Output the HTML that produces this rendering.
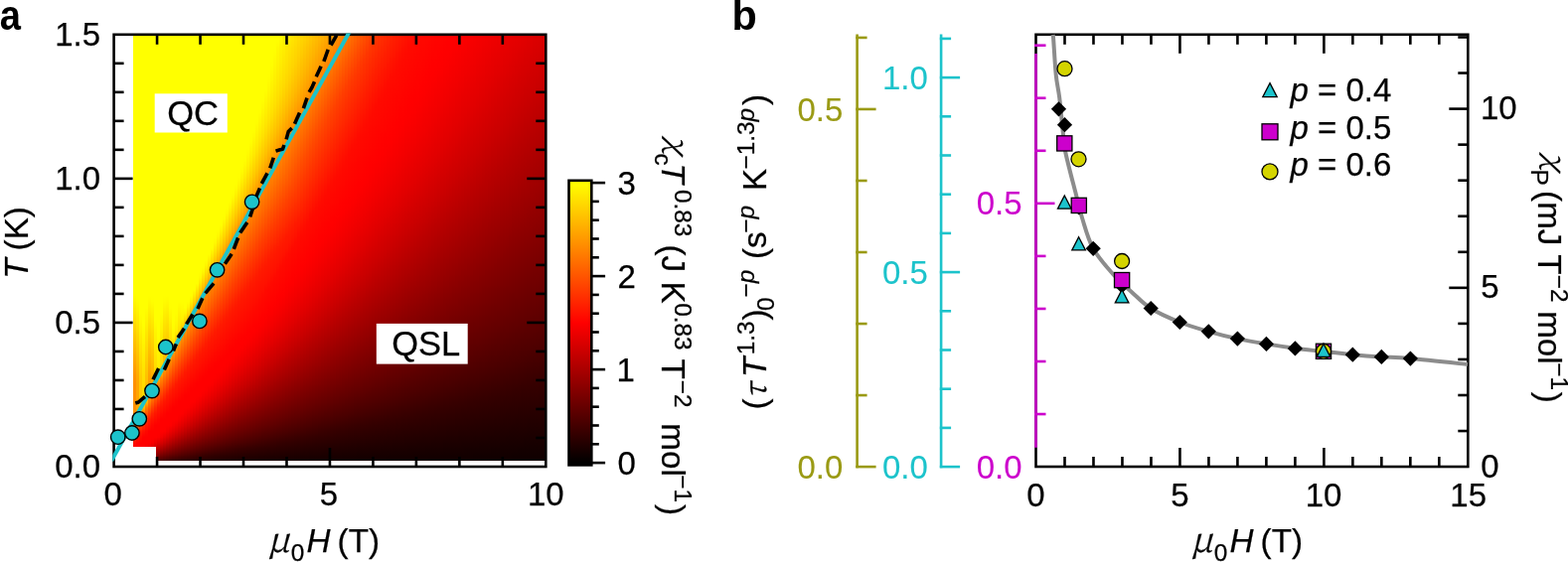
<!DOCTYPE html>
<html><head><meta charset="utf-8"><title>Figure</title>
<style>
html,body{margin:0;padding:0;background:#fff}
#fig{position:relative;width:1578px;height:566px;overflow:hidden;background:#fff;font-family:"Liberation Sans",sans-serif}
#hm i{position:absolute;display:block}
svg{position:absolute;left:0;top:0}
svg text{font-family:"Liberation Sans",sans-serif}
</style></head><body>
<div id="fig">
<div id="hm">
<i style="left:134.0px;width:3.5px;top:36.0px;height:427.7px;background:linear-gradient(#ffff00,#ffff00,#ffff00,#ffff00,#ffff00,#ffff00,#ffff00,#ffff00,#ffff00,#ffff00,#ffff00,#ffff00,#ffff00,#ffff00,#ffff00,#ffff00,#ffff00,#ffff00,#ffff00,#ffff00,#ffff00,#ffff00,#ffff00,#ffff00,#ffff00,#ffff00,#ffff00,#ffff00,#ffff00,#ffff00,#ffff00,#ffff00,#ffff00,#ffff00,#ffff00,#ffff00,#ffff00,#ffff00,#ffff00,#ffff00,#ffff00,#ffff00,#ffff00,#ffff00,#fffd00,#fff600,#ffee00,#ffe700,#ffdf00,#ffd700,#ffd000,#ffc800,#ffc000,#ffb900,#ffb100,#ffaa00,#ffa200,#ff9a00,#ff9300,#ff9000,#ff9000,#ff9000,#ff9000,#ff9000,#ff9000,#ff9000,#ff9000,#ff6900,#ff2e00,#ff0c00,#ff0000,#ff0000,#ae0000)"></i>
<i style="left:137.0px;width:3.5px;top:36.0px;height:427.7px;background:linear-gradient(#ffff00,#ffff00,#ffff00,#ffff00,#ffff00,#ffff00,#ffff00,#ffff00,#ffff00,#ffff00,#ffff00,#ffff00,#ffff00,#ffff00,#ffff00,#ffff00,#ffff00,#ffff00,#ffff00,#ffff00,#ffff00,#ffff00,#ffff00,#ffff00,#ffff00,#ffff00,#ffff00,#ffff00,#ffff00,#ffff00,#ffff00,#ffff00,#ffff00,#ffff00,#ffff00,#ffff00,#ffff00,#ffff00,#ffff00,#ffff00,#ffff00,#ffff00,#ffff00,#ffff00,#ffff00,#fffc00,#fff600,#ffef00,#ffe900,#ffe200,#ffdc00,#ffd500,#ffcf00,#ffc800,#ffc200,#ffbb00,#ffb500,#ffae00,#ffa800,#ffa500,#ffa500,#ffa500,#ffa500,#ffa500,#ffa500,#ffa500,#ff7000,#ff3b00,#ff1400,#ff0100,#ff0000,#f40000,#970000)"></i>
<i style="left:140.0px;width:3.5px;top:36.0px;height:427.7px;background:linear-gradient(#ffff00,#ffff00,#ffff00,#ffff00,#ffff00,#ffff00,#ffff00,#ffff00,#ffff00,#ffff00,#ffff00,#ffff00,#ffff00,#ffff00,#ffff00,#ffff00,#ffff00,#ffff00,#ffff00,#ffff00,#ffff00,#ffff00,#ffff00,#ffff00,#ffff00,#ffff00,#ffff00,#ffff00,#ffff00,#ffff00,#ffff00,#ffff00,#ffff00,#ffff00,#ffff00,#ffff00,#ffff00,#ffff00,#ffff00,#ffff00,#ffff00,#ffff00,#ffff00,#ffff00,#ffff00,#ffff00,#ffff00,#ffff00,#fffb00,#fff600,#fff200,#ffed00,#ffe800,#ffe400,#ffdf00,#ffdb00,#ffd600,#ffd200,#ffcd00,#ffcb00,#ffcb00,#ffcb00,#ffcb00,#ffcb00,#ffbd00,#ff7500,#ff4600,#ff1a00,#ff0900,#ff0000,#ff0000,#e00000,#850000)"></i>
<i style="left:143.0px;width:3.5px;top:36.0px;height:427.7px;background:linear-gradient(#ffff00,#ffff00,#ffff00,#ffff00,#ffff00,#ffff00,#ffff00,#ffff00,#ffff00,#ffff00,#ffff00,#ffff00,#ffff00,#ffff00,#ffff00,#ffff00,#ffff00,#ffff00,#ffff00,#ffff00,#ffff00,#ffff00,#ffff00,#ffff00,#ffff00,#ffff00,#ffff00,#ffff00,#ffff00,#ffff00,#ffff00,#ffff00,#ffff00,#ffff00,#ffff00,#ffff00,#ffff00,#ffff00,#ffff00,#ffff00,#ffff00,#ffff00,#ffff00,#ffff00,#ffff00,#ffff00,#ffff00,#ffff00,#ffff00,#ffff00,#fffb00,#fff800,#fff400,#fff000,#ffec00,#ffe900,#ffe500,#ffe100,#ffde00,#ffdc00,#ffdc00,#ffdc00,#ffdc00,#ffbc00,#ff7900,#ff4f00,#ff2700,#ff1000,#ff0000,#ff0000,#fe0000,#cc0000,#770000)"></i>
<i style="left:146.0px;width:3.5px;top:36.0px;height:427.7px;background:linear-gradient(#ffff00,#ffff00,#ffff00,#ffff00,#ffff00,#ffff00,#ffff00,#ffff00,#ffff00,#ffff00,#ffff00,#ffff00,#ffff00,#ffff00,#ffff00,#ffff00,#ffff00,#ffff00,#ffff00,#ffff00,#ffff00,#ffff00,#ffff00,#ffff00,#ffff00,#ffff00,#ffff00,#ffff00,#ffff00,#ffff00,#ffff00,#ffff00,#ffff00,#ffff00,#ffff00,#ffff00,#ffff00,#ffff00,#ffff00,#ffff00,#ffff00,#ffff00,#ffff00,#ffff00,#ffff00,#ffff00,#ffff00,#fffa00,#fff500,#fff000,#ffea00,#ffe500,#ffe000,#ffdb00,#ffd500,#ffd000,#ffcb00,#ffc600,#ffc100,#ffbe00,#ffbe00,#ffbe00,#ffbc00,#ff7d00,#ff5600,#ff3100,#ff1500,#ff0700,#ff0000,#ff0000,#f10000,#b80000,#6b0000)"></i>
<i style="left:149.0px;width:3.5px;top:36.0px;height:427.7px;background:linear-gradient(#ffff00,#ffff00,#ffff00,#ffff00,#ffff00,#ffff00,#ffff00,#ffff00,#ffff00,#ffff00,#ffff00,#ffff00,#ffff00,#ffff00,#ffff00,#ffff00,#ffff00,#ffff00,#ffff00,#ffff00,#ffff00,#ffff00,#ffff00,#ffff00,#ffff00,#ffff00,#ffff00,#ffff00,#ffff00,#ffff00,#ffff00,#ffff00,#ffff00,#ffff00,#ffff00,#ffff00,#ffff00,#ffff00,#ffff00,#ffff00,#ffff00,#ffff00,#ffff00,#ffff00,#ffff00,#fffa00,#fff300,#ffec00,#ffe500,#ffde00,#ffd700,#ffd000,#ffc900,#ffc200,#ffbb00,#ffb400,#ffad00,#ffa600,#ff9f00,#ff9c00,#ff9c00,#ff9c00,#ff8000,#ff5d00,#ff3a00,#ff1900,#ff0d00,#ff0000,#ff0000,#ff0000,#e30000,#a90000,#620000)"></i>
<i style="left:152.0px;width:3.5px;top:36.0px;height:427.7px;background:linear-gradient(#ffff00,#ffff00,#ffff00,#ffff00,#ffff00,#ffff00,#ffff00,#ffff00,#ffff00,#ffff00,#ffff00,#ffff00,#ffff00,#ffff00,#ffff00,#ffff00,#ffff00,#ffff00,#ffff00,#ffff00,#ffff00,#ffff00,#ffff00,#ffff00,#ffff00,#ffff00,#ffff00,#ffff00,#ffff00,#ffff00,#ffff00,#ffff00,#ffff00,#ffff00,#ffff00,#ffff00,#ffff00,#ffff00,#ffff00,#ffff00,#ffff00,#ffff00,#ffff00,#ffff00,#ffff00,#fffe00,#fff700,#fff100,#ffeb00,#ffe500,#ffde00,#ffd800,#ffd200,#ffcb00,#ffc500,#ffbf00,#ffb800,#ffb200,#ffac00,#ffa900,#ffa900,#ff8200,#ff6200,#ff4100,#ff2300,#ff1200,#ff0600,#ff0000,#ff0000,#f90000,#d30000,#9b0000,#590000)"></i>
<i style="left:155.0px;width:3.5px;top:36.0px;height:427.7px;background:linear-gradient(#ffff00,#ffff00,#ffff00,#ffff00,#ffff00,#ffff00,#ffff00,#ffff00,#ffff00,#ffff00,#ffff00,#ffff00,#ffff00,#ffff00,#ffff00,#ffff00,#ffff00,#ffff00,#ffff00,#ffff00,#ffff00,#ffff00,#ffff00,#ffff00,#ffff00,#ffff00,#ffff00,#ffff00,#ffff00,#ffff00,#ffff00,#ffff00,#ffff00,#ffff00,#ffff00,#ffff00,#ffff00,#ffff00,#ffff00,#ffff00,#ffff00,#ffff00,#ffff00,#ffff00,#ffff00,#ffff00,#ffff00,#ffff00,#ffff00,#fffb00,#fff600,#fff200,#ffee00,#ffea00,#ffe600,#ffe200,#ffde00,#ffd900,#ffd500,#ffba00,#ff8400,#ff6600,#ff4800,#ff2b00,#ff1600,#ff0b00,#ff0000,#ff0000,#ff0000,#ed0000,#c50000,#8f0000,#520000)"></i>
<i style="left:158.0px;width:3.5px;top:36.0px;height:427.7px;background:linear-gradient(#ffff00,#ffff00,#ffff00,#ffff00,#ffff00,#ffff00,#ffff00,#ffff00,#ffff00,#ffff00,#ffff00,#ffff00,#ffff00,#ffff00,#ffff00,#ffff00,#ffff00,#ffff00,#ffff00,#ffff00,#ffff00,#ffff00,#ffff00,#ffff00,#ffff00,#ffff00,#ffff00,#ffff00,#ffff00,#ffff00,#ffff00,#ffff00,#ffff00,#ffff00,#ffff00,#ffff00,#ffff00,#ffff00,#ffff00,#ffff00,#ffff00,#ffff00,#ffff00,#ffff00,#ffff00,#ffff00,#ffff00,#ffff00,#ffff00,#ffff00,#ffff00,#fffd00,#fffa00,#fff600,#fff300,#fff000,#ffed00,#ffe900,#ffba00,#ff8600,#ff6a00,#ff4e00,#ff3300,#ff1900,#ff0f00,#ff0500,#ff0000,#ff0000,#fd0000,#e20000,#b70000,#850000,#4c0000)"></i>
<i style="left:161.0px;width:3.5px;top:36.0px;height:427.7px;background:linear-gradient(#ffff00,#ffff00,#ffff00,#ffff00,#ffff00,#ffff00,#ffff00,#ffff00,#ffff00,#ffff00,#ffff00,#ffff00,#ffff00,#ffff00,#ffff00,#ffff00,#ffff00,#ffff00,#ffff00,#ffff00,#ffff00,#ffff00,#ffff00,#ffff00,#ffff00,#ffff00,#ffff00,#ffff00,#ffff00,#ffff00,#ffff00,#ffff00,#ffff00,#ffff00,#ffff00,#ffff00,#ffff00,#ffff00,#ffff00,#ffff00,#ffff00,#ffff00,#ffff00,#ffff00,#ffff00,#ffff00,#ffff00,#ffff00,#fffb00,#fff600,#fff200,#ffed00,#ffe800,#ffe400,#ffdf00,#ffdb00,#ffd600,#ffba00,#ff8800,#ff6d00,#ff5300,#ff3900,#ff2100,#ff1300,#ff0900,#ff0000,#ff0000,#ff0000,#f30000,#d50000,#ab0000,#7c0000,#460000)"></i>
<i style="left:164.0px;width:3.5px;top:36.0px;height:427.7px;background:linear-gradient(#ffff00,#ffff00,#ffff00,#ffff00,#ffff00,#ffff00,#ffff00,#ffff00,#ffff00,#ffff00,#ffff00,#ffff00,#ffff00,#ffff00,#ffff00,#ffff00,#ffff00,#ffff00,#ffff00,#ffff00,#ffff00,#ffff00,#ffff00,#ffff00,#ffff00,#ffff00,#ffff00,#ffff00,#ffff00,#ffff00,#ffff00,#ffff00,#ffff00,#ffff00,#ffff00,#ffff00,#ffff00,#ffff00,#ffff00,#ffff00,#ffff00,#ffff00,#ffff00,#ffff00,#ffff00,#fffc00,#fff600,#ffef00,#ffe900,#ffe200,#ffdc00,#ffd500,#ffcf00,#ffc800,#ffc200,#ffbb00,#ffb500,#ff8a00,#ff7000,#ff5800,#ff3e00,#ff2800,#ff1600,#ff0d00,#ff0400,#ff0000,#ff0000,#fe0000,#e90000,#ca0000,#a10000,#740000,#410000)"></i>
<i style="left:167.0px;width:3.5px;top:36.0px;height:427.7px;background:linear-gradient(#ffff00,#ffff00,#ffff00,#ffff00,#ffff00,#ffff00,#ffff00,#ffff00,#ffff00,#ffff00,#ffff00,#ffff00,#ffff00,#ffff00,#ffff00,#ffff00,#ffff00,#ffff00,#ffff00,#ffff00,#ffff00,#ffff00,#ffff00,#ffff00,#ffff00,#ffff00,#ffff00,#ffff00,#ffff00,#ffff00,#ffff00,#ffff00,#ffff00,#ffff00,#ffff00,#ffff00,#ffff00,#ffff00,#ffff00,#ffff00,#ffff00,#ffff00,#ffff00,#ffff00,#ffff00,#fffa00,#fff300,#ffec00,#ffe500,#ffde00,#ffd700,#ffd000,#ffc900,#ffc200,#ffbb00,#ffb400,#ff8d00,#ff7300,#ff5c00,#ff4400,#ff2e00,#ff1900,#ff1100,#ff0800,#ff0000,#ff0000,#ff0000,#f60000,#df0000,#be0000,#970000,#6d0000,#3c0000)"></i>
<i style="left:170.0px;width:3.5px;top:36.0px;height:427.7px;background:linear-gradient(#ffff00,#ffff00,#ffff00,#ffff00,#ffff00,#ffff00,#ffff00,#ffff00,#ffff00,#ffff00,#ffff00,#ffff00,#ffff00,#ffff00,#ffff00,#ffff00,#ffff00,#ffff00,#ffff00,#ffff00,#ffff00,#ffff00,#ffff00,#ffff00,#ffff00,#ffff00,#ffff00,#ffff00,#ffff00,#ffff00,#ffff00,#ffff00,#ffff00,#ffff00,#ffff00,#ffff00,#ffff00,#ffff00,#ffff00,#ffff00,#ffff00,#ffff00,#ffff00,#ffff00,#ffff00,#ffff00,#fffe00,#fff900,#fff400,#ffee00,#ffe900,#ffe400,#ffde00,#ffd900,#ffb900,#ff8f00,#ff7500,#ff5f00,#ff4900,#ff3300,#ff1f00,#ff1400,#ff0c00,#ff0400,#ff0000,#ff0000,#fe0000,#ed0000,#d40000,#b40000,#8f0000,#670000,#380000)"></i>
<i style="left:173.0px;width:3.5px;top:36.0px;height:427.7px;background:linear-gradient(#ffff00,#ffff00,#ffff00,#ffff00,#ffff00,#ffff00,#ffff00,#ffff00,#ffff00,#ffff00,#ffff00,#ffff00,#ffff00,#ffff00,#ffff00,#ffff00,#ffff00,#ffff00,#ffff00,#ffff00,#ffff00,#ffff00,#ffff00,#ffff00,#ffff00,#ffff00,#ffff00,#ffff00,#ffff00,#ffff00,#ffff00,#ffff00,#ffff00,#ffff00,#ffff00,#ffff00,#ffff00,#ffff00,#ffff00,#ffff00,#ffff00,#ffff00,#ffff00,#ffff00,#ffff00,#ffff00,#ffff00,#ffff00,#ffff00,#fffd00,#fff900,#fff500,#ffdf00,#ffb900,#ff9100,#ff7700,#ff6200,#ff4d00,#ff3800,#ff2500,#ff1600,#ff0f00,#ff0700,#ff0000,#ff0000,#ff0000,#f80000,#e50000,#cb0000,#aa0000,#870000,#620000,#340000)"></i>
<i style="left:176.0px;width:3.5px;top:36.0px;height:427.7px;background:linear-gradient(#ffff00,#ffff00,#ffff00,#ffff00,#ffff00,#ffff00,#ffff00,#ffff00,#ffff00,#ffff00,#ffff00,#ffff00,#ffff00,#ffff00,#ffff00,#ffff00,#ffff00,#ffff00,#ffff00,#ffff00,#ffff00,#ffff00,#ffff00,#ffff00,#ffff00,#ffff00,#ffff00,#ffff00,#ffff00,#ffff00,#ffff00,#ffff00,#ffff00,#ffff00,#ffff00,#ffff00,#ffff00,#ffff00,#ffff00,#ffff00,#ffff00,#ffff00,#ffff00,#ffff00,#ffff00,#ffff00,#ffff00,#fffe00,#fffa00,#fff500,#fff000,#ffdd00,#ffb800,#ff9200,#ff7900,#ff6500,#ff5100,#ff3d00,#ff2b00,#ff1900,#ff1200,#ff0b00,#ff0300,#ff0000,#ff0000,#ff0000,#f10000,#dc0000,#c10000,#a20000,#800000,#5d0000,#320000)"></i>
<i style="left:179.0px;width:3.5px;top:36.0px;height:427.7px;background:linear-gradient(#ffff00,#ffff00,#ffff00,#ffff00,#ffff00,#ffff00,#ffff00,#ffff00,#ffff00,#ffff00,#ffff00,#ffff00,#ffff00,#ffff00,#ffff00,#ffff00,#ffff00,#ffff00,#ffff00,#ffff00,#ffff00,#ffff00,#ffff00,#ffff00,#ffff00,#ffff00,#ffff00,#ffff00,#ffff00,#ffff00,#ffff00,#ffff00,#ffff00,#ffff00,#ffff00,#ffff00,#ffff00,#ffff00,#ffff00,#ffff00,#ffff00,#ffff00,#ffff00,#ffff00,#ffff00,#ffff00,#fff900,#fff300,#ffed00,#ffe700,#ffdc00,#ffb800,#ff9400,#ff7b00,#ff6800,#ff5500,#ff4100,#ff3000,#ff1e00,#ff1400,#ff0d00,#ff0700,#ff0000,#ff0000,#ff0000,#f90000,#e80000,#d30000,#b80000,#9a0000,#7a0000,#580000,#2f0000)"></i>
<i style="left:182.0px;width:3.5px;top:36.0px;height:427.7px;background:linear-gradient(#ffff00,#ffff00,#ffff00,#ffff00,#ffff00,#ffff00,#ffff00,#ffff00,#ffff00,#ffff00,#ffff00,#ffff00,#ffff00,#ffff00,#ffff00,#ffff00,#ffff00,#ffff00,#ffff00,#ffff00,#ffff00,#ffff00,#ffff00,#ffff00,#ffff00,#ffff00,#ffff00,#ffff00,#ffff00,#ffff00,#ffff00,#ffff00,#ffff00,#ffff00,#ffff00,#ffff00,#ffff00,#ffff00,#ffff00,#ffff00,#ffff00,#ffff00,#ffff00,#ffff00,#ffff00,#ffff00,#fffb00,#fff600,#fff000,#ffdb00,#ffb800,#ff9500,#ff7d00,#ff6a00,#ff5800,#ff4500,#ff3400,#ff2300,#ff1700,#ff1000,#ff0a00,#ff0300,#ff0000,#ff0000,#fe0000,#f20000,#e10000,#cb0000,#b00000,#930000,#740000,#530000,#2d0000)"></i>
<i style="left:185.0px;width:3.5px;top:36.0px;height:427.7px;background:linear-gradient(#ffff00,#ffff00,#ffff00,#ffff00,#ffff00,#ffff00,#ffff00,#ffff00,#ffff00,#ffff00,#ffff00,#ffff00,#ffff00,#ffff00,#ffff00,#ffff00,#ffff00,#ffff00,#ffff00,#ffff00,#ffff00,#ffff00,#ffff00,#ffff00,#ffff00,#ffff00,#ffff00,#ffff00,#ffff00,#ffff00,#ffff00,#ffff00,#ffff00,#ffff00,#ffff00,#ffff00,#ffff00,#ffff00,#ffff00,#ffff00,#ffff00,#ffff00,#ffff00,#ffff00,#ffff00,#ffff00,#ffff00,#fff400,#ffd900,#ffb800,#ff9700,#ff7e00,#ff6d00,#ff5b00,#ff4900,#ff3800,#ff2800,#ff1900,#ff1300,#ff0c00,#ff0600,#ff0000,#ff0000,#ff0000,#f90000,#eb0000,#d80000,#c20000,#a80000,#8c0000,#6f0000,#4f0000,#2c0000)"></i>
<i style="left:188.0px;width:3.5px;top:36.0px;height:427.7px;background:linear-gradient(#ffff00,#ffff00,#ffff00,#ffff00,#ffff00,#ffff00,#ffff00,#ffff00,#ffff00,#ffff00,#ffff00,#ffff00,#ffff00,#ffff00,#ffff00,#ffff00,#ffff00,#ffff00,#ffff00,#ffff00,#ffff00,#ffff00,#ffff00,#ffff00,#ffff00,#ffff00,#ffff00,#ffff00,#ffff00,#ffff00,#ffff00,#ffff00,#ffff00,#ffff00,#ffff00,#ffff00,#ffff00,#ffff00,#ffff00,#ffff00,#ffff00,#ffff00,#ffff00,#ffff00,#ffff00,#ffff00,#fff200,#ffd800,#ffb800,#ff9800,#ff8000,#ff6f00,#ff5e00,#ff4d00,#ff3c00,#ff2d00,#ff1d00,#ff1500,#ff0f00,#ff0900,#ff0300,#ff0000,#ff0000,#fe0000,#f30000,#e40000,#d10000,#ba0000,#a10000,#860000,#6b0000,#4c0000,#2a0000)"></i>
<i style="left:191.0px;width:3.5px;top:36.0px;height:427.7px;background:linear-gradient(#ffff00,#ffff00,#ffff00,#ffff00,#ffff00,#ffff00,#ffff00,#ffff00,#ffff00,#ffff00,#ffff00,#ffff00,#ffff00,#ffff00,#ffff00,#ffff00,#ffff00,#ffff00,#ffff00,#ffff00,#ffff00,#ffff00,#ffff00,#ffff00,#ffff00,#ffff00,#ffff00,#ffff00,#ffff00,#ffff00,#ffff00,#ffff00,#ffff00,#ffff00,#ffff00,#ffff00,#ffff00,#ffff00,#ffff00,#ffff00,#ffff00,#ffff00,#ffff00,#ffff00,#ffff00,#ffef00,#ffd600,#ffb800,#ff9900,#ff8100,#ff7100,#ff6000,#ff5000,#ff4000,#ff3100,#ff2200,#ff1700,#ff1100,#ff0b00,#ff0500,#ff0000,#ff0000,#ff0000,#f90000,#ed0000,#dd0000,#ca0000,#b30000,#9a0000,#810000,#660000,#480000,#290000)"></i>
<i style="left:194.0px;width:3.5px;top:36.0px;height:427.7px;background:linear-gradient(#ffff00,#ffff00,#ffff00,#ffff00,#ffff00,#ffff00,#ffff00,#ffff00,#ffff00,#ffff00,#ffff00,#ffff00,#ffff00,#ffff00,#ffff00,#ffff00,#ffff00,#ffff00,#ffff00,#ffff00,#ffff00,#ffff00,#ffff00,#ffff00,#ffff00,#ffff00,#ffff00,#ffff00,#ffff00,#ffff00,#ffff00,#ffff00,#ffff00,#ffff00,#ffff00,#ffff00,#ffff00,#ffff00,#ffff00,#ffff00,#ffff00,#ffff00,#ffff00,#ffff00,#ffec00,#ffd400,#ffb800,#ff9a00,#ff8200,#ff7200,#ff6300,#ff5300,#ff4300,#ff3400,#ff2600,#ff1900,#ff1300,#ff0e00,#ff0800,#ff0200,#ff0000,#ff0000,#fe0000,#f40000,#e60000,#d50000,#c20000,#ac0000,#940000,#7c0000,#620000,#450000,#270000)"></i>
<i style="left:197.0px;width:3.5px;top:36.0px;height:427.7px;background:linear-gradient(#ffff00,#ffff00,#ffff00,#ffff00,#ffff00,#ffff00,#ffff00,#ffff00,#ffff00,#ffff00,#ffff00,#ffff00,#ffff00,#ffff00,#ffff00,#ffff00,#ffff00,#ffff00,#ffff00,#ffff00,#ffff00,#ffff00,#ffff00,#ffff00,#ffff00,#ffff00,#ffff00,#ffff00,#ffff00,#ffff00,#ffff00,#ffff00,#ffff00,#ffff00,#ffff00,#ffff00,#ffff00,#ffff00,#ffff00,#ffff00,#ffff00,#ffff00,#fffe00,#ffe900,#ffd200,#ffb700,#ff9b00,#ff8300,#ff7400,#ff6500,#ff5600,#ff4600,#ff3800,#ff2a00,#ff1c00,#ff1500,#ff1000,#ff0a00,#ff0500,#ff0000,#ff0000,#ff0000,#f90000,#ee0000,#e00000,#cf0000,#bb0000,#a50000,#8e0000,#770000,#5e0000,#410000,#260000)"></i>
<i style="left:200.0px;width:3.5px;top:36.0px;height:427.7px;background:linear-gradient(#ffff00,#ffff00,#ffff00,#ffff00,#ffff00,#ffff00,#ffff00,#ffff00,#ffff00,#ffff00,#ffff00,#ffff00,#ffff00,#ffff00,#ffff00,#ffff00,#ffff00,#ffff00,#ffff00,#ffff00,#ffff00,#ffff00,#ffff00,#ffff00,#ffff00,#ffff00,#ffff00,#ffff00,#ffff00,#ffff00,#ffff00,#ffff00,#ffff00,#ffff00,#ffff00,#ffff00,#ffff00,#ffff00,#ffff00,#ffff00,#ffff00,#fffa00,#ffe600,#ffd000,#ffb600,#ff9c00,#ff8400,#ff7500,#ff6700,#ff5800,#ff4a00,#ff3b00,#ff2e00,#ff2100,#ff1700,#ff1200,#ff0d00,#ff0700,#ff0200,#ff0000,#ff0000,#fe0000,#f40000,#e80000,#d90000,#c80000,#b40000,#9f0000,#890000,#730000,#5b0000,#3f0000,#250000)"></i>
<i style="left:203.0px;width:3.5px;top:36.0px;height:427.7px;background:linear-gradient(#ffff00,#ffff00,#ffff00,#ffff00,#ffff00,#ffff00,#ffff00,#ffff00,#ffff00,#ffff00,#ffff00,#ffff00,#ffff00,#ffff00,#ffff00,#ffff00,#ffff00,#ffff00,#ffff00,#ffff00,#ffff00,#ffff00,#ffff00,#ffff00,#ffff00,#ffff00,#ffff00,#ffff00,#ffff00,#ffff00,#ffff00,#ffff00,#ffff00,#ffff00,#ffff00,#ffff00,#ffff00,#ffff00,#ffff00,#ffff00,#fff700,#ffe400,#ffcf00,#ffb600,#ff9c00,#ff8500,#ff7700,#ff6900,#ff5b00,#ff4c00,#ff3e00,#ff3100,#ff2500,#ff1900,#ff1400,#ff0f00,#ff0a00,#ff0500,#ff0000,#ff0000,#ff0000,#f90000,#ee0000,#e20000,#d20000,#c10000,#ae0000,#9a0000,#840000,#6f0000,#570000,#3c0000,#240000)"></i>
<i style="left:206.0px;width:3.5px;top:36.0px;height:427.7px;background:linear-gradient(#ffff00,#ffff00,#ffff00,#ffff00,#ffff00,#ffff00,#ffff00,#ffff00,#ffff00,#ffff00,#ffff00,#ffff00,#ffff00,#ffff00,#ffff00,#ffff00,#ffff00,#ffff00,#ffff00,#ffff00,#ffff00,#ffff00,#ffff00,#ffff00,#ffff00,#ffff00,#ffff00,#ffff00,#ffff00,#ffff00,#ffff00,#ffff00,#ffff00,#ffff00,#ffff00,#ffff00,#ffff00,#ffff00,#ffff00,#fff400,#ffe100,#ffcd00,#ffb500,#ff9d00,#ff8600,#ff7800,#ff6b00,#ff5d00,#ff4f00,#ff4100,#ff3500,#ff2800,#ff1c00,#ff1600,#ff1100,#ff0c00,#ff0700,#ff0200,#ff0000,#ff0000,#fd0000,#f40000,#e90000,#dc0000,#cd0000,#bb0000,#a80000,#940000,#800000,#6b0000,#540000,#390000,#230000)"></i>
<i style="left:209.0px;width:3.5px;top:36.0px;height:427.7px;background:linear-gradient(#ffff00,#ffff00,#ffff00,#ffff00,#ffff00,#ffff00,#ffff00,#ffff00,#ffff00,#ffff00,#ffff00,#ffff00,#ffff00,#ffff00,#ffff00,#ffff00,#ffff00,#ffff00,#ffff00,#ffff00,#ffff00,#ffff00,#ffff00,#ffff00,#ffff00,#ffff00,#ffff00,#ffff00,#ffff00,#ffff00,#ffff00,#ffff00,#ffff00,#ffff00,#ffff00,#ffff00,#ffff00,#ffff00,#fff000,#ffdf00,#ffcb00,#ffb500,#ff9d00,#ff8700,#ff7900,#ff6c00,#ff5f00,#ff5200,#ff4400,#ff3800,#ff2c00,#ff2000,#ff1700,#ff1200,#ff0e00,#ff0900,#ff0400,#ff0000,#ff0000,#ff0000,#f80000,#ef0000,#e40000,#d50000,#c60000,#b50000,#a20000,#8f0000,#7c0000,#670000,#510000,#370000,#220000)"></i>
<i style="left:212.0px;width:3.5px;top:36.0px;height:427.7px;background:linear-gradient(#ffff00,#ffff00,#ffff00,#ffff00,#ffff00,#ffff00,#ffff00,#ffff00,#ffff00,#ffff00,#ffff00,#ffff00,#ffff00,#ffff00,#ffff00,#ffff00,#ffff00,#ffff00,#ffff00,#ffff00,#ffff00,#ffff00,#ffff00,#ffff00,#ffff00,#ffff00,#ffff00,#ffff00,#ffff00,#ffff00,#ffff00,#ffff00,#ffff00,#ffff00,#ffff00,#ffff00,#fffe00,#ffed00,#ffdd00,#ffca00,#ffb400,#ff9e00,#ff8700,#ff7b00,#ff6e00,#ff6100,#ff5400,#ff4700,#ff3b00,#ff2f00,#ff2300,#ff1900,#ff1400,#ff1000,#ff0b00,#ff0600,#ff0200,#ff0000,#ff0000,#fc0000,#f40000,#e90000,#de0000,#d00000,#c00000,#af0000,#9d0000,#8b0000,#780000,#640000,#4e0000,#350000,#210000)"></i>
<i style="left:215.0px;width:3.5px;top:36.0px;height:427.7px;background:linear-gradient(#ffff00,#ffff00,#ffff00,#ffff00,#ffff00,#ffff00,#ffff00,#ffff00,#ffff00,#ffff00,#ffff00,#ffff00,#ffff00,#ffff00,#ffff00,#ffff00,#ffff00,#ffff00,#ffff00,#ffff00,#ffff00,#ffff00,#ffff00,#ffff00,#ffff00,#ffff00,#ffff00,#ffff00,#ffff00,#ffff00,#ffff00,#ffff00,#ffff00,#ffff00,#ffff00,#fffa00,#ffeb00,#ffdb00,#ffc800,#ffb300,#ff9e00,#ff8800,#ff7c00,#ff6f00,#ff6300,#ff5600,#ff4a00,#ff3d00,#ff3200,#ff2700,#ff1b00,#ff1600,#ff1100,#ff0d00,#ff0800,#ff0400,#ff0000,#ff0000,#fe0000,#f70000,#ef0000,#e50000,#d80000,#ca0000,#ba0000,#aa0000,#980000,#860000,#740000,#610000,#4b0000,#330000,#200000)"></i>
<i style="left:218.0px;width:3.5px;top:36.0px;height:427.7px;background:linear-gradient(#ffff00,#ffff00,#ffff00,#ffff00,#ffff00,#ffff00,#ffff00,#ffff00,#ffff00,#ffff00,#ffff00,#ffff00,#ffff00,#ffff00,#ffff00,#ffff00,#ffff00,#ffff00,#ffff00,#ffff00,#ffff00,#ffff00,#ffff00,#ffff00,#ffff00,#ffff00,#ffff00,#ffff00,#ffff00,#ffff00,#ffff00,#ffff00,#ffff00,#ffff00,#fff700,#ffe800,#ffd900,#ffc700,#ffb300,#ff9e00,#ff8900,#ff7d00,#ff7100,#ff6500,#ff5900,#ff4c00,#ff4000,#ff3500,#ff2a00,#ff1f00,#ff1700,#ff1300,#ff0f00,#ff0a00,#ff0600,#ff0200,#ff0000,#ff0000,#fb0000,#f30000,#ea0000,#df0000,#d20000,#c40000,#b50000,#a40000,#940000,#820000,#700000,#5e0000,#490000,#320000,#1f0000)"></i>
<i style="left:221.0px;width:3.5px;top:36.0px;height:427.7px;background:linear-gradient(#ffff00,#ffff00,#ffff00,#ffff00,#ffff00,#ffff00,#ffff00,#ffff00,#ffff00,#ffff00,#ffff00,#ffff00,#ffff00,#ffff00,#ffff00,#ffff00,#ffff00,#ffff00,#ffff00,#ffff00,#ffff00,#ffff00,#ffff00,#ffff00,#ffff00,#ffff00,#ffff00,#ffff00,#ffff00,#ffff00,#ffff00,#ffff00,#ffff00,#fff400,#ffe500,#ffd700,#ffc600,#ffb200,#ff9f00,#ff8a00,#ff7e00,#ff7200,#ff6600,#ff5b00,#ff4f00,#ff4300,#ff3800,#ff2d00,#ff2200,#ff1900,#ff1500,#ff1000,#ff0c00,#ff0800,#ff0400,#ff0000,#ff0000,#fe0000,#f70000,#ef0000,#e50000,#da0000,#cd0000,#bf0000,#b00000,#a00000,#8f0000,#7e0000,#6d0000,#5b0000,#460000,#300000,#1f0000)"></i>
<i style="left:224.0px;width:3.5px;top:36.0px;height:427.7px;background:linear-gradient(#ffff00,#ffff00,#ffff00,#ffff00,#ffff00,#ffff00,#ffff00,#ffff00,#ffff00,#ffff00,#ffff00,#ffff00,#ffff00,#ffff00,#ffff00,#ffff00,#ffff00,#ffff00,#ffff00,#ffff00,#ffff00,#ffff00,#ffff00,#ffff00,#ffff00,#ffff00,#ffff00,#ffff00,#ffff00,#ffff00,#ffff00,#fffd00,#fff100,#ffe300,#ffd500,#ffc400,#ffb200,#ff9f00,#ff8b00,#ff7f00,#ff7300,#ff6800,#ff5c00,#ff5100,#ff4500,#ff3a00,#ff3000,#ff2500,#ff1b00,#ff1600,#ff1200,#ff0e00,#ff0a00,#ff0600,#ff0200,#ff0000,#ff0000,#fa0000,#f30000,#ea0000,#e00000,#d40000,#c80000,#b90000,#ab0000,#9b0000,#8b0000,#7b0000,#6a0000,#580000,#440000,#2f0000,#1e0000)"></i>
<i style="left:227.0px;width:3.5px;top:36.0px;height:427.7px;background:linear-gradient(#ffff00,#ffff00,#ffff00,#ffff00,#ffff00,#ffff00,#ffff00,#ffff00,#ffff00,#ffff00,#ffff00,#ffff00,#ffff00,#ffff00,#ffff00,#ffff00,#ffff00,#ffff00,#ffff00,#ffff00,#ffff00,#ffff00,#ffff00,#ffff00,#ffff00,#ffff00,#ffff00,#ffff00,#ffff00,#ffff00,#fffa00,#ffee00,#ffe100,#ffd300,#ffc300,#ffb100,#ff9f00,#ff8c00,#ff7f00,#ff7400,#ff6900,#ff5e00,#ff5300,#ff4800,#ff3d00,#ff3300,#ff2800,#ff1e00,#ff1700,#ff1300,#ff0f00,#ff0b00,#ff0700,#ff0300,#ff0000,#ff0000,#fd0000,#f60000,#ef0000,#e60000,#db0000,#cf0000,#c20000,#b40000,#a60000,#970000,#870000,#770000,#670000,#550000,#410000,#2e0000,#1d0000)"></i>
<i style="left:230.0px;width:3.5px;top:36.0px;height:427.7px;background:linear-gradient(#ffff00,#ffff00,#ffff00,#ffff00,#ffff00,#ffff00,#ffff00,#ffff00,#ffff00,#ffff00,#ffff00,#ffff00,#ffff00,#ffff00,#ffff00,#ffff00,#ffff00,#ffff00,#ffff00,#ffff00,#ffff00,#ffff00,#ffff00,#ffff00,#ffff00,#ffff00,#ffff00,#ffff00,#ffff00,#fff700,#ffeb00,#ffde00,#ffd100,#ffc200,#ffb100,#ff9f00,#ff8d00,#ff8000,#ff7500,#ff6b00,#ff6000,#ff5500,#ff4a00,#ff3f00,#ff3500,#ff2b00,#ff2100,#ff1900,#ff1500,#ff1100,#ff0d00,#ff0900,#ff0500,#ff0100,#ff0000,#ff0000,#f90000,#f20000,#ea0000,#e10000,#d60000,#cb0000,#bd0000,#b00000,#a10000,#930000,#830000,#740000,#640000,#530000,#3f0000,#2d0000,#1d0000)"></i>
<i style="left:233.0px;width:3.5px;top:36.0px;height:427.7px;background:linear-gradient(#ffff00,#ffff00,#ffff00,#ffff00,#ffff00,#ffff00,#ffff00,#ffff00,#ffff00,#ffff00,#ffff00,#ffff00,#ffff00,#ffff00,#ffff00,#ffff00,#ffff00,#ffff00,#ffff00,#ffff00,#ffff00,#ffff00,#ffff00,#ffff00,#ffff00,#ffff00,#ffff00,#fffd00,#fff400,#ffe800,#ffdc00,#ffd000,#ffc100,#ffb000,#ff9f00,#ff8e00,#ff8100,#ff7700,#ff6c00,#ff6200,#ff5700,#ff4c00,#ff4100,#ff3800,#ff2e00,#ff2400,#ff1b00,#ff1600,#ff1200,#ff0f00,#ff0b00,#ff0700,#ff0300,#ff0000,#ff0000,#fc0000,#f50000,#ee0000,#e60000,#dc0000,#d10000,#c60000,#b80000,#ab0000,#9d0000,#8f0000,#800000,#710000,#620000,#500000,#3d0000,#2c0000,#1c0000)"></i>
<i style="left:236.0px;width:3.5px;top:36.0px;height:427.7px;background:linear-gradient(#ffff00,#ffff00,#ffff00,#ffff00,#ffff00,#ffff00,#ffff00,#ffff00,#ffff00,#ffff00,#ffff00,#ffff00,#ffff00,#ffff00,#ffff00,#ffff00,#ffff00,#ffff00,#ffff00,#ffff00,#ffff00,#ffff00,#ffff00,#ffff00,#ffff00,#ffff00,#fffa00,#fff100,#ffe600,#ffda00,#ffce00,#ffbf00,#ffb000,#ff9f00,#ff8f00,#ff8200,#ff7800,#ff6d00,#ff6300,#ff5900,#ff4e00,#ff4400,#ff3a00,#ff3100,#ff2700,#ff1e00,#ff1700,#ff1400,#ff1000,#ff0c00,#ff0900,#ff0500,#ff0100,#ff0000,#fe0000,#f80000,#f20000,#ea0000,#e20000,#d70000,#cd0000,#c10000,#b40000,#a70000,#990000,#8b0000,#7d0000,#6e0000,#5f0000,#4e0000,#3b0000,#2b0000,#1c0000)"></i>
<i style="left:239.0px;width:3.5px;top:36.0px;height:427.7px;background:linear-gradient(#ffff00,#ffff00,#ffff00,#ffff00,#ffff00,#ffff00,#ffff00,#ffff00,#ffff00,#ffff00,#ffff00,#ffff00,#ffff00,#ffff00,#ffff00,#ffff00,#ffff00,#ffff00,#ffff00,#ffff00,#ffff00,#ffff00,#ffff00,#ffff00,#fffe00,#fff700,#ffee00,#ffe300,#ffd800,#ffcc00,#ffbe00,#ffaf00,#ff9f00,#ff8f00,#ff8300,#ff7900,#ff6e00,#ff6400,#ff5a00,#ff5000,#ff4600,#ff3c00,#ff3300,#ff2a00,#ff2100,#ff1900,#ff1500,#ff1100,#ff0e00,#ff0a00,#ff0700,#ff0300,#ff0000,#ff0000,#fb0000,#f50000,#ee0000,#e60000,#dd0000,#d30000,#c80000,#bc0000,#af0000,#a20000,#950000,#870000,#790000,#6b0000,#5c0000,#4c0000,#390000,#2a0000,#1b0000)"></i>
<i style="left:242.0px;width:3.5px;top:36.0px;height:427.7px;background:linear-gradient(#ffff00,#ffff00,#ffff00,#ffff00,#ffff00,#ffff00,#ffff00,#ffff00,#ffff00,#ffff00,#ffff00,#ffff00,#ffff00,#ffff00,#ffff00,#ffff00,#ffff00,#ffff00,#ffff00,#ffff00,#ffff00,#ffff00,#ffff00,#fffb00,#fff400,#ffeb00,#ffe100,#ffd600,#ffcb00,#ffbd00,#ffae00,#ff9f00,#ff9000,#ff8300,#ff7900,#ff7000,#ff6600,#ff5c00,#ff5200,#ff4800,#ff3e00,#ff3500,#ff2c00,#ff2300,#ff1a00,#ff1600,#ff1300,#ff0f00,#ff0c00,#ff0800,#ff0500,#ff0100,#ff0000,#fd0000,#f70000,#f10000,#ea0000,#e20000,#d80000,#ce0000,#c30000,#b70000,#ab0000,#9e0000,#910000,#840000,#760000,#690000,#5a0000,#4a0000,#370000,#290000,#1b0000)"></i>
<i style="left:245.0px;width:3.5px;top:36.0px;height:427.7px;background:linear-gradient(#ffff00,#ffff00,#ffff00,#ffff00,#ffff00,#ffff00,#ffff00,#ffff00,#ffff00,#ffff00,#ffff00,#ffff00,#ffff00,#ffff00,#ffff00,#ffff00,#ffff00,#ffff00,#ffff00,#ffff00,#ffff00,#fffe00,#fff800,#fff100,#ffe900,#ffdf00,#ffd400,#ffc900,#ffbc00,#ffae00,#ff9f00,#ff9100,#ff8400,#ff7a00,#ff7100,#ff6700,#ff5e00,#ff5400,#ff4a00,#ff4000,#ff3800,#ff2f00,#ff2600,#ff1d00,#ff1800,#ff1400,#ff1100,#ff0d00,#ff0a00,#ff0600,#ff0300,#ff0000,#fe0000,#fa0000,#f40000,#ed0000,#e60000,#dd0000,#d40000,#ca0000,#bf0000,#b30000,#a70000,#9b0000,#8e0000,#810000,#740000,#660000,#570000,#480000,#360000,#280000,#1a0000)"></i>
<i style="left:248.0px;width:3.5px;top:36.0px;height:427.7px;background:linear-gradient(#ffff00,#ffff00,#ffff00,#ffff00,#ffff00,#ffff00,#ffff00,#ffff00,#ffff00,#ffff00,#ffff00,#ffff00,#ffff00,#ffff00,#ffff00,#ffff00,#ffff00,#ffff00,#ffff00,#ffff00,#fffb00,#fff500,#ffef00,#ffe600,#ffdc00,#ffd200,#ffc800,#ffbb00,#ffad00,#ff9f00,#ff9100,#ff8400,#ff7b00,#ff7200,#ff6800,#ff5f00,#ff5600,#ff4c00,#ff4300,#ff3a00,#ff3100,#ff2900,#ff2000,#ff1900,#ff1500,#ff1200,#ff0f00,#ff0b00,#ff0800,#ff0400,#ff0100,#ff0000,#fc0000,#f60000,#f10000,#e90000,#e20000,#d90000,#d00000,#c60000,#ba0000,#af0000,#a30000,#970000,#8a0000,#7e0000,#710000,#640000,#550000,#460000,#340000,#270000,#1a0000)"></i>
<i style="left:251.0px;width:3.5px;top:36.0px;height:427.7px;background:linear-gradient(#ffff00,#ffff00,#ffff00,#ffff00,#ffff00,#ffff00,#ffff00,#ffff00,#ffff00,#ffff00,#ffff00,#ffff00,#ffff00,#ffff00,#ffff00,#ffff00,#ffff00,#ffff00,#fffe00,#fff800,#fff200,#ffec00,#ffe300,#ffda00,#ffd100,#ffc700,#ffba00,#ffad00,#ff9f00,#ff9200,#ff8500,#ff7c00,#ff7300,#ff6a00,#ff6000,#ff5700,#ff4e00,#ff4500,#ff3c00,#ff3300,#ff2b00,#ff2300,#ff1a00,#ff1600,#ff1300,#ff1000,#ff0d00,#ff0900,#ff0600,#ff0300,#ff0000,#fe0000,#f90000,#f30000,#ed0000,#e60000,#de0000,#d50000,#cc0000,#c10000,#b60000,#ab0000,#9f0000,#930000,#870000,#7b0000,#6e0000,#620000,#530000,#440000,#330000,#260000,#1a0000)"></i>
<i style="left:254.0px;width:3.5px;top:36.0px;height:427.7px;background:linear-gradient(#ffff00,#ffff00,#ffff00,#ffff00,#ffff00,#ffff00,#ffff00,#ffff00,#ffff00,#ffff00,#ffff00,#ffff00,#ffff00,#ffff00,#ffff00,#ffff00,#ffff00,#fffb00,#fff500,#ffef00,#ffea00,#ffe100,#ffd800,#ffcf00,#ffc500,#ffb900,#ffac00,#ff9f00,#ff9200,#ff8600,#ff7d00,#ff7400,#ff6b00,#ff6200,#ff5900,#ff5000,#ff4700,#ff3e00,#ff3500,#ff2d00,#ff2500,#ff1d00,#ff1800,#ff1400,#ff1100,#ff0e00,#ff0a00,#ff0700,#ff0400,#ff0100,#ff0000,#fb0000,#f60000,#f00000,#e90000,#e20000,#da0000,#d10000,#c80000,#bd0000,#b20000,#a70000,#9c0000,#900000,#840000,#780000,#6c0000,#5f0000,#510000,#420000,#320000,#260000,#190000)"></i>
<i style="left:257.0px;width:3.5px;top:36.0px;height:427.7px;background:linear-gradient(#ffff00,#ffff00,#ffff00,#ffff00,#ffff00,#ffff00,#ffff00,#ffff00,#ffff00,#ffff00,#ffff00,#ffff00,#ffff00,#ffff00,#ffff00,#fffc00,#fff700,#fff200,#ffed00,#ffe700,#ffdf00,#ffd600,#ffcd00,#ffc400,#ffb800,#ffac00,#ff9f00,#ff9200,#ff8600,#ff7d00,#ff7500,#ff6c00,#ff6300,#ff5a00,#ff5100,#ff4800,#ff4000,#ff3800,#ff2f00,#ff2700,#ff1f00,#ff1900,#ff1500,#ff1200,#ff0f00,#ff0c00,#ff0800,#ff0600,#ff0300,#ff0000,#fd0000,#f80000,#f30000,#ec0000,#e60000,#de0000,#d60000,#cd0000,#c30000,#b90000,#ae0000,#a30000,#980000,#8d0000,#810000,#750000,#690000,#5d0000,#4f0000,#400000,#310000,#250000,#190000)"></i>
<i style="left:260.0px;width:3.5px;top:36.0px;height:427.7px;background:linear-gradient(#ffff00,#ffff00,#ffff00,#ffff00,#ffff00,#ffff00,#ffff00,#ffff00,#ffff00,#ffff00,#ffff00,#ffff00,#ffff00,#fffe00,#fff900,#fff400,#ffef00,#ffea00,#ffe400,#ffdc00,#ffd400,#ffcb00,#ffc200,#ffb700,#ffab00,#ff9f00,#ff9200,#ff8700,#ff7e00,#ff7600,#ff6d00,#ff6400,#ff5c00,#ff5300,#ff4a00,#ff4100,#ff3900,#ff3200,#ff2a00,#ff2200,#ff1a00,#ff1700,#ff1300,#ff1000,#ff0d00,#ff0900,#ff0600,#ff0400,#ff0100,#fe0000,#fa0000,#f50000,#ef0000,#e90000,#e20000,#da0000,#d20000,#c90000,#bf0000,#b50000,#ab0000,#a00000,#950000,#8a0000,#7e0000,#730000,#670000,#5b0000,#4d0000,#3e0000,#300000,#240000,#180000)"></i>
<i style="left:263.0px;width:3.5px;top:36.0px;height:427.7px;background:linear-gradient(#ffff00,#ffff00,#ffff00,#ffff00,#ffff00,#ffff00,#ffff00,#ffff00,#ffff00,#ffff00,#ffff00,#fffe00,#fffa00,#fff600,#fff100,#ffed00,#ffe800,#ffe200,#ffda00,#ffd200,#ffca00,#ffc100,#ffb600,#ffab00,#ff9f00,#ff9300,#ff8700,#ff7f00,#ff7600,#ff6e00,#ff6600,#ff5d00,#ff5500,#ff4c00,#ff4300,#ff3b00,#ff3400,#ff2c00,#ff2400,#ff1c00,#ff1800,#ff1500,#ff1200,#ff0f00,#ff0a00,#ff0700,#ff0500,#ff0200,#ff0000,#fc0000,#f70000,#f20000,#ec0000,#e50000,#de0000,#d60000,#ce0000,#c50000,#bb0000,#b10000,#a70000,#9d0000,#920000,#870000,#7c0000,#700000,#650000,#580000,#4b0000,#3d0000,#2f0000,#240000,#180000)"></i>
<i style="left:266.0px;width:3.5px;top:36.0px;height:427.7px;background:linear-gradient(#ffff00,#ffff00,#ffff00,#ffff00,#ffff00,#ffff00,#ffff00,#ffff00,#ffff00,#ffff00,#fffb00,#fff700,#fff300,#ffef00,#ffea00,#ffe500,#ffdf00,#ffd800,#ffd000,#ffc800,#ffc000,#ffb500,#ffaa00,#ff9f00,#ff9300,#ff8700,#ff7f00,#ff7700,#ff6f00,#ff6700,#ff5e00,#ff5600,#ff4e00,#ff4500,#ff3d00,#ff3600,#ff2e00,#ff2600,#ff1f00,#ff1900,#ff1600,#ff1300,#ff1000,#ff0a00,#ff0800,#ff0500,#ff0300,#ff0100,#fd0000,#f90000,#f40000,#ee0000,#e80000,#e20000,#da0000,#d20000,#ca0000,#c10000,#b70000,#ae0000,#a40000,#990000,#8f0000,#840000,#790000,#6e0000,#630000,#560000,#4a0000,#3b0000,#2e0000,#230000,#180000)"></i>
<i style="left:269.0px;width:3.5px;top:36.0px;height:427.7px;background:linear-gradient(#ffff00,#ffff00,#ffff00,#ffff00,#ffff00,#ffff00,#ffff00,#fffe00,#fffb00,#fff800,#fff400,#fff000,#ffec00,#ffe700,#ffe300,#ffdd00,#ffd600,#ffce00,#ffc700,#ffbe00,#ffb400,#ffaa00,#ff9f00,#ff9300,#ff8700,#ff8000,#ff7800,#ff7000,#ff6800,#ff6000,#ff5700,#ff4f00,#ff4700,#ff3f00,#ff3700,#ff3000,#ff2900,#ff2100,#ff1a00,#ff1700,#ff1400,#ff1100,#ff0c00,#ff0800,#ff0600,#ff0400,#ff0100,#fe0000,#fa0000,#f60000,#f10000,#eb0000,#e50000,#de0000,#d70000,#cf0000,#c60000,#bd0000,#b40000,#aa0000,#a00000,#960000,#8c0000,#810000,#770000,#6c0000,#610000,#550000,#480000,#3a0000,#2d0000,#220000,#180000)"></i>
<i style="left:272.0px;width:3.5px;top:36.0px;height:427.7px;background:linear-gradient(#ffff00,#ffff00,#ffff00,#ffff00,#ffff00,#fffe00,#fffb00,#fff800,#fff400,#fff100,#ffed00,#ffe900,#ffe500,#ffe100,#ffdb00,#ffd400,#ffcd00,#ffc500,#ffbd00,#ffb300,#ffa900,#ff9f00,#ff9300,#ff8800,#ff8000,#ff7900,#ff7100,#ff6900,#ff6100,#ff5900,#ff5100,#ff4900,#ff4100,#ff3900,#ff3200,#ff2b00,#ff2300,#ff1c00,#ff1800,#ff1500,#ff1200,#ff0d00,#ff0900,#ff0700,#ff0400,#ff0200,#ff0000,#fc0000,#f80000,#f30000,#ee0000,#e80000,#e20000,#da0000,#d30000,#cb0000,#c30000,#b90000,#b00000,#a70000,#9d0000,#930000,#890000,#7f0000,#740000,#6a0000,#5f0000,#530000,#460000,#380000,#2d0000,#220000,#170000)"></i>
<i style="left:275.0px;width:3.5px;top:36.0px;height:427.7px;background:linear-gradient(#ffff00,#ffff00,#ffff00,#fffd00,#fffa00,#fff700,#fff400,#fff100,#ffee00,#ffea00,#ffe600,#ffe300,#ffde00,#ffd800,#ffd200,#ffcb00,#ffc400,#ffbc00,#ffb300,#ffa900,#ff9f00,#ff9300,#ff8800,#ff8000,#ff7900,#ff7200,#ff6a00,#ff6200,#ff5a00,#ff5200,#ff4a00,#ff4200,#ff3b00,#ff3400,#ff2d00,#ff2600,#ff1e00,#ff1900,#ff1600,#ff1300,#ff0f00,#ff0900,#ff0700,#ff0500,#ff0300,#ff0100,#fd0000,#f90000,#f50000,#f00000,#ea0000,#e50000,#de0000,#d70000,#d00000,#c80000,#bf0000,#b60000,#ad0000,#a30000,#9a0000,#900000,#860000,#7c0000,#720000,#680000,#5d0000,#510000,#440000,#370000,#2c0000,#210000,#170000)"></i>
<i style="left:278.0px;width:3.5px;top:36.0px;height:427.7px;background:linear-gradient(#ffff00,#fffe00,#fff900,#fff600,#fff400,#fff100,#ffee00,#ffeb00,#ffe700,#ffe400,#ffe000,#ffdc00,#ffd600,#ffd000,#ffc900,#ffc300,#ffbb00,#ffb200,#ffa800,#ff9e00,#ff9300,#ff8800,#ff8000,#ff7900,#ff7200,#ff6b00,#ff6300,#ff5b00,#ff5400,#ff4c00,#ff4400,#ff3d00,#ff3600,#ff2f00,#ff2800,#ff2100,#ff1a00,#ff1700,#ff1400,#ff1000,#ff0a00,#ff0800,#ff0600,#ff0400,#ff0100,#fe0000,#fb0000,#f70000,#f20000,#ed0000,#e70000,#e20000,#db0000,#d30000,#cc0000,#c40000,#bb0000,#b20000,#aa0000,#a00000,#970000,#8d0000,#840000,#7a0000,#700000,#660000,#5b0000,#4f0000,#430000,#350000,#2b0000,#210000,#170000)"></i>
<i style="left:281.0px;width:3.5px;top:36.0px;height:427.7px;background:linear-gradient(#fffd00,#fff800,#fff300,#fff000,#ffee00,#ffeb00,#ffe800,#ffe500,#ffe100,#ffde00,#ffda00,#ffd400,#ffce00,#ffc800,#ffc100,#ffba00,#ffb100,#ffa800,#ff9e00,#ff9300,#ff8800,#ff8000,#ff7900,#ff7200,#ff6c00,#ff6400,#ff5d00,#ff5500,#ff4d00,#ff4600,#ff3e00,#ff3700,#ff3100,#ff2a00,#ff2300,#ff1c00,#ff1800,#ff1500,#ff1100,#ff0b00,#ff0800,#ff0600,#ff0400,#ff0200,#ff0000,#fc0000,#f80000,#f40000,#ef0000,#ea0000,#e40000,#de0000,#d70000,#d00000,#c90000,#c00000,#b80000,#af0000,#a60000,#9d0000,#940000,#8b0000,#810000,#770000,#6e0000,#640000,#590000,#4e0000,#410000,#340000,#2a0000,#200000,#160000)"></i>
<i style="left:284.0px;width:3.5px;top:36.0px;height:427.7px;background:linear-gradient(#fff700,#fff200,#ffee00,#ffeb00,#ffe800,#ffe500,#ffe200,#ffdf00,#ffdc00,#ffd700,#ffd200,#ffcc00,#ffc600,#ffc000,#ffb800,#ffb000,#ffa700,#ff9e00,#ff9400,#ff8900,#ff8000,#ff7900,#ff7200,#ff6c00,#ff6500,#ff5e00,#ff5600,#ff4f00,#ff4700,#ff4000,#ff3900,#ff3200,#ff2c00,#ff2500,#ff1e00,#ff1900,#ff1600,#ff1200,#ff0c00,#ff0900,#ff0700,#ff0500,#ff0300,#ff0100,#fe0000,#fa0000,#f60000,#f10000,#ec0000,#e70000,#e10000,#db0000,#d40000,#cd0000,#c50000,#bd0000,#b40000,#ac0000,#a30000,#9a0000,#910000,#880000,#7f0000,#750000,#6c0000,#620000,#570000,#4c0000,#400000,#330000,#2a0000,#200000,#160000)"></i>
<i style="left:287.0px;width:3.5px;top:36.0px;height:427.7px;background:linear-gradient(#fff100,#ffed00,#ffe800,#ffe500,#ffe300,#ffe000,#ffdd00,#ffd900,#ffd500,#ffd000,#ffca00,#ffc500,#ffbe00,#ffb700,#ffaf00,#ffa700,#ff9e00,#ff9400,#ff8900,#ff8000,#ff7900,#ff7200,#ff6b00,#ff6500,#ff5f00,#ff5800,#ff5000,#ff4900,#ff4100,#ff3b00,#ff3400,#ff2d00,#ff2700,#ff2000,#ff1900,#ff1700,#ff1400,#ff0d00,#ff0900,#ff0700,#ff0500,#ff0300,#ff0100,#fe0000,#fb0000,#f70000,#f30000,#ee0000,#e90000,#e40000,#de0000,#d70000,#d00000,#ca0000,#c20000,#b90000,#b10000,#a90000,#a00000,#980000,#8e0000,#850000,#7c0000,#730000,#6a0000,#600000,#550000,#4b0000,#3e0000,#320000,#290000,#1f0000,#160000)"></i>
<i style="left:290.0px;width:3.5px;top:36.0px;height:427.7px;background:linear-gradient(#ffec00,#ffe700,#ffe300,#ffe000,#ffdd00,#ffda00,#ffd700,#ffd300,#ffce00,#ffc900,#ffc300,#ffbd00,#ffb600,#ffae00,#ffa600,#ff9e00,#ff9400,#ff8900,#ff8100,#ff7900,#ff7200,#ff6b00,#ff6500,#ff5e00,#ff5800,#ff5200,#ff4a00,#ff4300,#ff3c00,#ff3600,#ff2f00,#ff2900,#ff2200,#ff1c00,#ff1800,#ff1500,#ff0f00,#ff0a00,#ff0800,#ff0600,#ff0400,#ff0200,#ff0000,#fc0000,#f80000,#f50000,#f00000,#eb0000,#e60000,#e10000,#da0000,#d40000,#cd0000,#c60000,#be0000,#b60000,#ae0000,#a60000,#9d0000,#950000,#8c0000,#830000,#7a0000,#710000,#680000,#5e0000,#540000,#490000,#3d0000,#320000,#280000,#1f0000,#160000)"></i>
<i style="left:293.0px;width:3.5px;top:36.0px;height:427.7px;background:linear-gradient(#ffe600,#ffe200,#ffde00,#ffdb00,#ffd800,#ffd500,#ffd100,#ffcc00,#ffc700,#ffc100,#ffbc00,#ffb500,#ffae00,#ffa600,#ff9d00,#ff9400,#ff8900,#ff8100,#ff7900,#ff7200,#ff6b00,#ff6400,#ff5e00,#ff5800,#ff5100,#ff4b00,#ff4500,#ff3e00,#ff3700,#ff3100,#ff2a00,#ff2400,#ff1e00,#ff1900,#ff1500,#ff1000,#ff0a00,#ff0800,#ff0600,#ff0400,#ff0200,#ff0000,#fe0000,#fa0000,#f60000,#f20000,#ed0000,#e90000,#e40000,#de0000,#d70000,#d10000,#ca0000,#c30000,#bb0000,#b30000,#ab0000,#a30000,#9b0000,#920000,#890000,#810000,#780000,#6f0000,#660000,#5c0000,#520000,#480000,#3c0000,#310000,#280000,#1f0000,#160000)"></i>
<i style="left:296.0px;width:3.5px;top:36.0px;height:427.7px;background:linear-gradient(#ffe100,#ffdd00,#ffd900,#ffd600,#ffd300,#ffcf00,#ffca00,#ffc500,#ffc000,#ffbb00,#ffb400,#ffad00,#ffa500,#ff9d00,#ff9400,#ff8900,#ff8100,#ff7900,#ff7200,#ff6b00,#ff6400,#ff5e00,#ff5700,#ff5100,#ff4b00,#ff4500,#ff3f00,#ff3900,#ff3300,#ff2c00,#ff2600,#ff2000,#ff1900,#ff1600,#ff1100,#ff0b00,#ff0900,#ff0700,#ff0500,#ff0300,#ff0100,#fe0000,#fb0000,#f70000,#f40000,#ef0000,#eb0000,#e60000,#e10000,#da0000,#d40000,#ce0000,#c70000,#bf0000,#b80000,#b00000,#a80000,#a00000,#980000,#8f0000,#870000,#7e0000,#760000,#6d0000,#640000,#5b0000,#510000,#460000,#3a0000,#300000,#270000,#1e0000,#150000)"></i>
<i style="left:299.0px;width:3.5px;top:36.0px;height:427.7px;background:linear-gradient(#ffdc00,#ffd800,#ffd400,#ffd100,#ffcd00,#ffc800,#ffc400,#ffbf00,#ffb900,#ffb300,#ffac00,#ffa500,#ff9d00,#ff9400,#ff8a00,#ff8100,#ff7900,#ff7200,#ff6b00,#ff6400,#ff5e00,#ff5700,#ff5100,#ff4b00,#ff4500,#ff3f00,#ff3900,#ff3400,#ff2e00,#ff2800,#ff2200,#ff1b00,#ff1700,#ff1100,#ff0c00,#ff0900,#ff0700,#ff0500,#ff0300,#ff0200,#ff0000,#fc0000,#f90000,#f50000,#f10000,#ed0000,#e80000,#e30000,#dd0000,#d70000,#d10000,#cb0000,#c40000,#bc0000,#b50000,#ad0000,#a50000,#9d0000,#950000,#8d0000,#850000,#7c0000,#740000,#6b0000,#630000,#590000,#4f0000,#450000,#390000,#2f0000,#270000,#1e0000,#150000)"></i>
<i style="left:302.0px;width:3.5px;top:36.0px;height:427.7px;background:linear-gradient(#ffd700,#ffd300,#ffcf00,#ffcb00,#ffc600,#ffc200,#ffbd00,#ffb800,#ffb200,#ffab00,#ffa400,#ff9d00,#ff9400,#ff8a00,#ff8100,#ff7900,#ff7200,#ff6b00,#ff6400,#ff5d00,#ff5700,#ff5000,#ff4a00,#ff4500,#ff3f00,#ff3900,#ff3400,#ff2e00,#ff2800,#ff2300,#ff1d00,#ff1800,#ff1200,#ff0d00,#ff0900,#ff0700,#ff0600,#ff0400,#ff0200,#ff0000,#fd0000,#fa0000,#f60000,#f30000,#ef0000,#ea0000,#e50000,#e00000,#da0000,#d40000,#ce0000,#c80000,#c00000,#b90000,#b20000,#aa0000,#a30000,#9b0000,#930000,#8b0000,#820000,#7a0000,#720000,#6a0000,#610000,#570000,#4e0000,#430000,#380000,#2f0000,#260000,#1d0000,#150000)"></i>
<i style="left:305.0px;width:3.5px;top:36.0px;height:427.7px;background:linear-gradient(#ffd300,#ffce00,#ffc900,#ffc500,#ffc000,#ffbc00,#ffb700,#ffb100,#ffaa00,#ffa400,#ff9c00,#ff9400,#ff8a00,#ff8100,#ff7900,#ff7200,#ff6b00,#ff6400,#ff5d00,#ff5700,#ff5000,#ff4a00,#ff4500,#ff3f00,#ff3900,#ff3400,#ff2e00,#ff2900,#ff2300,#ff1e00,#ff1900,#ff1300,#ff0e00,#ff0a00,#ff0800,#ff0600,#ff0400,#ff0300,#ff0100,#fe0000,#fb0000,#f80000,#f40000,#f00000,#ec0000,#e70000,#e30000,#dd0000,#d70000,#d10000,#cb0000,#c40000,#bd0000,#b60000,#af0000,#a70000,#a00000,#980000,#900000,#880000,#800000,#780000,#700000,#680000,#5f0000,#560000,#4c0000,#420000,#370000,#2e0000,#250000,#1d0000,#150000)"></i>
<i style="left:308.0px;width:3.5px;top:36.0px;height:427.7px;background:linear-gradient(#ffce00,#ffc900,#ffc300,#ffbf00,#ffba00,#ffb600,#ffb000,#ffaa00,#ffa300,#ff9c00,#ff9400,#ff8a00,#ff8100,#ff7900,#ff7200,#ff6b00,#ff6400,#ff5d00,#ff5600,#ff5000,#ff4a00,#ff4400,#ff3f00,#ff3900,#ff3400,#ff2f00,#ff2900,#ff2400,#ff1e00,#ff1900,#ff1400,#ff0f00,#ff0a00,#ff0800,#ff0600,#ff0500,#ff0300,#ff0100,#ff0000,#fc0000,#f90000,#f50000,#f20000,#ee0000,#e90000,#e50000,#e00000,#da0000,#d40000,#ce0000,#c80000,#c10000,#ba0000,#b30000,#ac0000,#a50000,#9d0000,#960000,#8e0000,#860000,#7e0000,#760000,#6e0000,#660000,#5d0000,#540000,#4b0000,#400000,#360000,#2d0000,#250000,#1d0000,#150000)"></i>
<i style="left:311.0px;width:3.5px;top:36.0px;height:427.7px;background:linear-gradient(#ffc800,#ffc300,#ffbe00,#ffb900,#ffb500,#ffaf00,#ffa900,#ffa300,#ff9c00,#ff9400,#ff8a00,#ff8100,#ff7900,#ff7200,#ff6b00,#ff6400,#ff5d00,#ff5600,#ff5000,#ff4900,#ff4400,#ff3f00,#ff3900,#ff3400,#ff2f00,#ff2900,#ff2400,#ff1f00,#ff1a00,#ff1500,#ff0f00,#ff0a00,#ff0900,#ff0700,#ff0500,#ff0300,#ff0200,#ff0000,#fd0000,#fa0000,#f70000,#f30000,#ef0000,#eb0000,#e70000,#e20000,#dd0000,#d70000,#d10000,#cc0000,#c50000,#be0000,#b70000,#b00000,#a90000,#a20000,#9b0000,#930000,#8c0000,#840000,#7c0000,#740000,#6c0000,#650000,#5c0000,#530000,#4a0000,#3f0000,#350000,#2d0000,#240000,#1c0000,#140000)"></i>
<i style="left:314.0px;width:3.5px;top:36.0px;height:427.7px;background:linear-gradient(#ffc200,#ffbd00,#ffb800,#ffb400,#ffae00,#ffa800,#ffa200,#ff9c00,#ff9300,#ff8a00,#ff8100,#ff7a00,#ff7200,#ff6b00,#ff6400,#ff5d00,#ff5600,#ff5000,#ff4900,#ff4400,#ff3f00,#ff3900,#ff3400,#ff2f00,#ff2a00,#ff2500,#ff1f00,#ff1a00,#ff1500,#ff1000,#ff0b00,#ff0900,#ff0700,#ff0600,#ff0400,#ff0200,#ff0100,#fe0000,#fb0000,#f80000,#f40000,#f10000,#ed0000,#e80000,#e40000,#df0000,#da0000,#d40000,#cf0000,#c90000,#c20000,#bb0000,#b40000,#ae0000,#a70000,#a00000,#980000,#910000,#890000,#820000,#7a0000,#730000,#6b0000,#630000,#5a0000,#510000,#480000,#3e0000,#340000,#2c0000,#240000,#1c0000,#140000)"></i>
<i style="left:317.0px;width:3.5px;top:36.0px;height:427.7px;background:linear-gradient(#ffbd00,#ffb800,#ffb300,#ffad00,#ffa700,#ffa200,#ff9b00,#ff9300,#ff8a00,#ff8100,#ff7a00,#ff7200,#ff6b00,#ff6400,#ff5d00,#ff5600,#ff4f00,#ff4900,#ff4400,#ff3e00,#ff3900,#ff3400,#ff2f00,#ff2a00,#ff2500,#ff2000,#ff1b00,#ff1600,#ff1100,#ff0c00,#ff0900,#ff0800,#ff0600,#ff0400,#ff0300,#ff0100,#fe0000,#fc0000,#f90000,#f60000,#f20000,#ee0000,#ea0000,#e60000,#e20000,#dc0000,#d70000,#d10000,#cc0000,#c60000,#bf0000,#b80000,#b20000,#ab0000,#a40000,#9d0000,#960000,#8e0000,#870000,#800000,#780000,#710000,#690000,#610000,#590000,#500000,#470000,#3d0000,#330000,#2b0000,#240000,#1c0000,#140000)"></i>
<i style="left:320.0px;width:3.5px;top:36.0px;height:427.7px;background:linear-gradient(#ffb700,#ffb200,#ffac00,#ffa700,#ffa100,#ff9b00,#ff9300,#ff8a00,#ff8200,#ff7a00,#ff7200,#ff6b00,#ff6400,#ff5d00,#ff5600,#ff4f00,#ff4900,#ff4300,#ff3e00,#ff3900,#ff3400,#ff2f00,#ff2a00,#ff2500,#ff2000,#ff1b00,#ff1600,#ff1200,#ff0d00,#ff0900,#ff0800,#ff0600,#ff0500,#ff0300,#ff0100,#ff0000,#fd0000,#fa0000,#f70000,#f30000,#f00000,#ec0000,#e80000,#e40000,#df0000,#d90000,#d40000,#cf0000,#c90000,#c30000,#bc0000,#b60000,#af0000,#a80000,#a20000,#9b0000,#940000,#8c0000,#850000,#7e0000,#760000,#6f0000,#680000,#600000,#570000,#4f0000,#450000,#3b0000,#320000,#2b0000,#230000,#1c0000,#140000)"></i>
<i style="left:323.0px;width:3.5px;top:36.0px;height:427.7px;background:linear-gradient(#ffb200,#ffac00,#ffa600,#ffa100,#ff9b00,#ff9300,#ff8a00,#ff8200,#ff7a00,#ff7200,#ff6b00,#ff6400,#ff5d00,#ff5600,#ff4f00,#ff4900,#ff4300,#ff3e00,#ff3900,#ff3400,#ff2f00,#ff2a00,#ff2500,#ff2100,#ff1c00,#ff1700,#ff1200,#ff0d00,#ff0a00,#ff0800,#ff0700,#ff0500,#ff0300,#ff0200,#ff0000,#fe0000,#fb0000,#f80000,#f50000,#f10000,#ed0000,#e90000,#e50000,#e10000,#dc0000,#d70000,#d10000,#cc0000,#c60000,#c00000,#b90000,#b30000,#ad0000,#a60000,#9f0000,#980000,#910000,#8a0000,#830000,#7c0000,#750000,#6d0000,#660000,#5e0000,#560000,#4d0000,#440000,#3a0000,#320000,#2a0000,#230000,#1b0000,#140000)"></i>
<i style="left:326.0px;width:3.5px;top:36.0px;height:427.7px;background:linear-gradient(#ffac00,#ffa600,#ffa000,#ff9b00,#ff9300,#ff8a00,#ff8200,#ff7a00,#ff7200,#ff6b00,#ff6400,#ff5d00,#ff5600,#ff4f00,#ff4900,#ff4300,#ff3e00,#ff3900,#ff3400,#ff2f00,#ff2a00,#ff2600,#ff2100,#ff1c00,#ff1800,#ff1300,#ff0e00,#ff0a00,#ff0800,#ff0700,#ff0500,#ff0400,#ff0200,#ff0100,#fe0000,#fc0000,#f90000,#f60000,#f30000,#ef0000,#eb0000,#e70000,#e30000,#de0000,#d90000,#d40000,#cf0000,#c90000,#c30000,#bd0000,#b70000,#b00000,#aa0000,#a30000,#9d0000,#960000,#8f0000,#880000,#810000,#7a0000,#730000,#6c0000,#650000,#5d0000,#540000,#4c0000,#430000,#390000,#310000,#2a0000,#220000,#1b0000,#140000)"></i>
<i style="left:329.0px;width:3.5px;top:36.0px;height:427.7px;background:linear-gradient(#ffa600,#ffa000,#ff9a00,#ff9300,#ff8a00,#ff8200,#ff7a00,#ff7300,#ff6b00,#ff6400,#ff5d00,#ff5600,#ff4f00,#ff4900,#ff4200,#ff3e00,#ff3900,#ff3400,#ff2f00,#ff2b00,#ff2600,#ff2100,#ff1d00,#ff1800,#ff1300,#ff0f00,#ff0a00,#ff0900,#ff0700,#ff0600,#ff0400,#ff0300,#ff0100,#ff0000,#fd0000,#fa0000,#f70000,#f40000,#f00000,#ed0000,#e90000,#e50000,#e00000,#db0000,#d60000,#d10000,#cc0000,#c60000,#c00000,#ba0000,#b40000,#ae0000,#a70000,#a10000,#9a0000,#940000,#8d0000,#860000,#7f0000,#780000,#710000,#6a0000,#630000,#5b0000,#530000,#4b0000,#420000,#380000,#300000,#290000,#220000,#1b0000,#140000)"></i>
<i style="left:332.0px;width:3.5px;top:36.0px;height:427.7px;background:linear-gradient(#ffa000,#ff9a00,#ff9300,#ff8a00,#ff8200,#ff7a00,#ff7300,#ff6b00,#ff6400,#ff5d00,#ff5600,#ff4f00,#ff4900,#ff4200,#ff3d00,#ff3900,#ff3400,#ff2f00,#ff2b00,#ff2600,#ff2100,#ff1d00,#ff1800,#ff1400,#ff0f00,#ff0b00,#ff0900,#ff0700,#ff0600,#ff0400,#ff0300,#ff0100,#ff0000,#fd0000,#fb0000,#f80000,#f50000,#f20000,#ee0000,#ea0000,#e60000,#e30000,#de0000,#d90000,#d40000,#cf0000,#ca0000,#c40000,#be0000,#b80000,#b20000,#ab0000,#a50000,#9f0000,#980000,#910000,#8b0000,#840000,#7d0000,#760000,#700000,#690000,#620000,#5a0000,#520000,#4a0000,#400000,#370000,#300000,#290000,#210000,#1a0000,#130000)"></i>
<i style="left:335.0px;width:3.5px;top:36.0px;height:427.7px;background:linear-gradient(#ff9a00,#ff9300,#ff8a00,#ff8200,#ff7a00,#ff7300,#ff6b00,#ff6400,#ff5d00,#ff5600,#ff4f00,#ff4900,#ff4200,#ff3d00,#ff3900,#ff3400,#ff2f00,#ff2b00,#ff2600,#ff2200,#ff1d00,#ff1900,#ff1400,#ff1000,#ff0b00,#ff0900,#ff0800,#ff0600,#ff0500,#ff0300,#ff0200,#ff0000,#fe0000,#fc0000,#f90000,#f60000,#f30000,#ef0000,#ec0000,#e80000,#e40000,#e00000,#db0000,#d60000,#d10000,#cc0000,#c70000,#c10000,#bb0000,#b50000,#af0000,#a90000,#a30000,#9c0000,#960000,#8f0000,#890000,#820000,#7c0000,#750000,#6e0000,#670000,#600000,#580000,#500000,#480000,#3f0000,#360000,#2f0000,#280000,#210000,#1a0000,#130000)"></i>
<i style="left:338.0px;width:3.5px;top:36.0px;height:427.7px;background:linear-gradient(#ff9300,#ff8a00,#ff8200,#ff7b00,#ff7300,#ff6c00,#ff6400,#ff5d00,#ff5600,#ff4f00,#ff4900,#ff4200,#ff3d00,#ff3800,#ff3400,#ff2f00,#ff2b00,#ff2600,#ff2200,#ff1e00,#ff1900,#ff1500,#ff1000,#ff0c00,#ff0900,#ff0800,#ff0600,#ff0500,#ff0400,#ff0200,#ff0100,#fe0000,#fc0000,#fa0000,#f70000,#f40000,#f10000,#ed0000,#e90000,#e60000,#e20000,#dd0000,#d80000,#d40000,#cf0000,#ca0000,#c40000,#be0000,#b80000,#b30000,#ad0000,#a70000,#a00000,#9a0000,#940000,#8d0000,#870000,#800000,#7a0000,#730000,#6c0000,#660000,#5f0000,#570000,#4f0000,#470000,#3e0000,#350000,#2e0000,#280000,#210000,#1a0000,#130000)"></i>
<i style="left:341.0px;width:3.5px;top:36.0px;height:427.7px;background:linear-gradient(#ff8b00,#ff8300,#ff7b00,#ff7300,#ff6c00,#ff6400,#ff5d00,#ff5600,#ff4f00,#ff4900,#ff4200,#ff3d00,#ff3800,#ff3400,#ff2f00,#ff2b00,#ff2600,#ff2200,#ff1e00,#ff1900,#ff1500,#ff1100,#ff0d00,#ff0a00,#ff0800,#ff0700,#ff0500,#ff0400,#ff0200,#ff0100,#ff0000,#fd0000,#fa0000,#f80000,#f50000,#f20000,#ee0000,#eb0000,#e70000,#e40000,#df0000,#da0000,#d60000,#d10000,#cc0000,#c70000,#c10000,#bc0000,#b60000,#b00000,#aa0000,#a40000,#9e0000,#980000,#920000,#8b0000,#850000,#7e0000,#780000,#720000,#6b0000,#640000,#5d0000,#560000,#4e0000,#460000,#3d0000,#340000,#2e0000,#270000,#200000,#1a0000,#130000)"></i>
<i style="left:344.0px;width:3.5px;top:36.0px;height:427.7px;background:linear-gradient(#ff8300,#ff7b00,#ff7300,#ff6c00,#ff6400,#ff5d00,#ff5600,#ff4f00,#ff4900,#ff4200,#ff3c00,#ff3800,#ff3400,#ff2f00,#ff2b00,#ff2700,#ff2200,#ff1e00,#ff1a00,#ff1600,#ff1100,#ff0d00,#ff0a00,#ff0800,#ff0700,#ff0600,#ff0400,#ff0300,#ff0100,#ff0000,#fe0000,#fb0000,#f80000,#f60000,#f30000,#f00000,#ec0000,#e90000,#e50000,#e10000,#dd0000,#d80000,#d30000,#cf0000,#ca0000,#c40000,#bf0000,#b90000,#b30000,#ae0000,#a80000,#a20000,#9c0000,#960000,#900000,#890000,#830000,#7d0000,#760000,#700000,#6a0000,#630000,#5c0000,#540000,#4d0000,#450000,#3c0000,#340000,#2d0000,#270000,#200000,#190000,#130000)"></i>
<i style="left:347.0px;width:3.5px;top:36.0px;height:427.7px;background:linear-gradient(#ff7b00,#ff7300,#ff6c00,#ff6500,#ff5d00,#ff5600,#ff4f00,#ff4900,#ff4200,#ff3c00,#ff3800,#ff3300,#ff2f00,#ff2b00,#ff2700,#ff2200,#ff1e00,#ff1a00,#ff1600,#ff1200,#ff0e00,#ff0a00,#ff0900,#ff0700,#ff0600,#ff0400,#ff0300,#ff0200,#ff0000,#fe0000,#fc0000,#f90000,#f70000,#f40000,#f10000,#ed0000,#ea0000,#e60000,#e30000,#df0000,#da0000,#d50000,#d10000,#cc0000,#c70000,#c20000,#bc0000,#b70000,#b10000,#ac0000,#a60000,#a00000,#9a0000,#940000,#8e0000,#870000,#810000,#7b0000,#750000,#6e0000,#680000,#620000,#5a0000,#530000,#4c0000,#440000,#3b0000,#330000,#2d0000,#260000,#200000,#190000,#130000)"></i>
<i style="left:350.0px;width:3.5px;top:36.0px;height:427.7px;background:linear-gradient(#ff7400,#ff6c00,#ff6500,#ff5d00,#ff5600,#ff5000,#ff4900,#ff4200,#ff3c00,#ff3800,#ff3300,#ff2f00,#ff2b00,#ff2700,#ff2300,#ff1e00,#ff1a00,#ff1600,#ff1200,#ff0e00,#ff0a00,#ff0900,#ff0700,#ff0600,#ff0500,#ff0300,#ff0200,#ff0100,#fe0000,#fd0000,#fa0000,#f70000,#f50000,#f20000,#ef0000,#eb0000,#e80000,#e40000,#e10000,#dc0000,#d80000,#d30000,#cf0000,#ca0000,#c50000,#bf0000,#ba0000,#b40000,#af0000,#a90000,#a30000,#9e0000,#980000,#920000,#8c0000,#860000,#800000,#790000,#730000,#6d0000,#670000,#600000,#590000,#520000,#4b0000,#420000,#3a0000,#320000,#2c0000,#260000,#1f0000,#190000,#130000)"></i>
<i style="left:353.0px;width:3.5px;top:36.0px;height:427.7px;background:linear-gradient(#ff6c00,#ff6500,#ff5e00,#ff5700,#ff5000,#ff4900,#ff4200,#ff3c00,#ff3700,#ff3300,#ff2f00,#ff2b00,#ff2700,#ff2300,#ff1f00,#ff1b00,#ff1700,#ff1300,#ff0e00,#ff0a00,#ff0900,#ff0800,#ff0600,#ff0500,#ff0400,#ff0200,#ff0100,#ff0000,#fd0000,#fb0000,#f80000,#f60000,#f30000,#f00000,#ed0000,#e90000,#e60000,#e20000,#de0000,#da0000,#d50000,#d10000,#cc0000,#c70000,#c20000,#bd0000,#b70000,#b20000,#ad0000,#a70000,#a10000,#9c0000,#960000,#900000,#8a0000,#840000,#7e0000,#780000,#720000,#6c0000,#650000,#5f0000,#580000,#510000,#4a0000,#410000,#390000,#320000,#2c0000,#250000,#1f0000,#190000,#130000)"></i>
<i style="left:356.0px;width:3.5px;top:36.0px;height:427.7px;background:linear-gradient(#ff6500,#ff5e00,#ff5700,#ff5000,#ff4900,#ff4300,#ff3c00,#ff3700,#ff3300,#ff2f00,#ff2b00,#ff2700,#ff2300,#ff1f00,#ff1b00,#ff1700,#ff1300,#ff0f00,#ff0b00,#ff0900,#ff0800,#ff0700,#ff0500,#ff0400,#ff0300,#ff0100,#ff0000,#fe0000,#fc0000,#f90000,#f60000,#f40000,#f10000,#ee0000,#ea0000,#e70000,#e40000,#e00000,#db0000,#d70000,#d30000,#ce0000,#ca0000,#c50000,#c00000,#ba0000,#b50000,#b00000,#aa0000,#a50000,#9f0000,#9a0000,#940000,#8e0000,#880000,#820000,#7c0000,#760000,#700000,#6a0000,#640000,#5d0000,#560000,#4f0000,#480000,#400000,#380000,#310000,#2b0000,#250000,#1f0000,#190000,#120000)"></i>
<i style="left:359.0px;width:3.5px;top:36.0px;height:427.7px;background:linear-gradient(#ff5e00,#ff5700,#ff5000,#ff4900,#ff4300,#ff3c00,#ff3700,#ff3300,#ff2f00,#ff2b00,#ff2700,#ff2300,#ff1f00,#ff1b00,#ff1700,#ff1300,#ff0f00,#ff0b00,#ff0900,#ff0800,#ff0700,#ff0500,#ff0400,#ff0300,#ff0200,#ff0000,#fe0000,#fc0000,#fa0000,#f70000,#f50000,#f20000,#ef0000,#ec0000,#e80000,#e50000,#e20000,#dd0000,#d90000,#d50000,#d10000,#cc0000,#c80000,#c20000,#bd0000,#b80000,#b30000,#ae0000,#a80000,#a30000,#9d0000,#980000,#920000,#8c0000,#860000,#800000,#7b0000,#750000,#6f0000,#690000,#630000,#5c0000,#550000,#4e0000,#470000,#3f0000,#370000,#310000,#2b0000,#240000,#1e0000,#180000,#120000)"></i>
<i style="left:362.0px;width:3.5px;top:36.0px;height:427.7px;background:linear-gradient(#ff5700,#ff5000,#ff4900,#ff4300,#ff3c00,#ff3700,#ff3300,#ff2f00,#ff2b00,#ff2700,#ff2300,#ff1f00,#ff1b00,#ff1700,#ff1300,#ff1000,#ff0c00,#ff0900,#ff0800,#ff0700,#ff0600,#ff0400,#ff0300,#ff0200,#ff0100,#fe0000,#fd0000,#fa0000,#f80000,#f50000,#f30000,#f00000,#ed0000,#ea0000,#e60000,#e30000,#df0000,#db0000,#d70000,#d30000,#ce0000,#ca0000,#c50000,#c00000,#bb0000,#b60000,#b10000,#ab0000,#a60000,#a10000,#9b0000,#960000,#900000,#8a0000,#840000,#7f0000,#790000,#730000,#6d0000,#680000,#620000,#5b0000,#540000,#4d0000,#460000,#3e0000,#360000,#300000,#2a0000,#240000,#1e0000,#180000,#120000)"></i>
<i style="left:365.0px;width:3.5px;top:36.0px;height:427.7px;background:linear-gradient(#ff5000,#ff4a00,#ff4300,#ff3d00,#ff3600,#ff3200,#ff2f00,#ff2b00,#ff2700,#ff2300,#ff1f00,#ff1b00,#ff1800,#ff1400,#ff1000,#ff0c00,#ff0a00,#ff0800,#ff0700,#ff0600,#ff0500,#ff0300,#ff0200,#ff0100,#ff0000,#fd0000,#fb0000,#f90000,#f60000,#f40000,#f10000,#ee0000,#eb0000,#e80000,#e40000,#e10000,#dd0000,#d90000,#d40000,#d00000,#cc0000,#c80000,#c30000,#be0000,#b90000,#b30000,#ae0000,#a90000,#a40000,#9f0000,#990000,#940000,#8e0000,#880000,#830000,#7d0000,#780000,#720000,#6c0000,#660000,#600000,#5a0000,#530000,#4c0000,#450000,#3d0000,#360000,#2f0000,#2a0000,#240000,#1e0000,#180000,#120000)"></i>
<i style="left:368.0px;width:3.5px;top:36.0px;height:427.7px;background:linear-gradient(#ff4a00,#ff4300,#ff3d00,#ff3600,#ff3200,#ff2e00,#ff2b00,#ff2700,#ff2300,#ff1f00,#ff1b00,#ff1800,#ff1400,#ff1000,#ff0d00,#ff0a00,#ff0900,#ff0700,#ff0600,#ff0500,#ff0400,#ff0200,#ff0100,#ff0000,#fe0000,#fc0000,#f90000,#f70000,#f40000,#f20000,#ef0000,#ec0000,#e90000,#e60000,#e20000,#de0000,#da0000,#d60000,#d20000,#ce0000,#ca0000,#c50000,#c00000,#bb0000,#b60000,#b10000,#ac0000,#a70000,#a20000,#9d0000,#970000,#920000,#8c0000,#870000,#810000,#7c0000,#760000,#700000,#6b0000,#650000,#5f0000,#580000,#520000,#4b0000,#440000,#3c0000,#350000,#2f0000,#290000,#230000,#1e0000,#180000,#120000)"></i>
<i style="left:371.0px;width:3.5px;top:36.0px;height:427.7px;background:linear-gradient(#ff4300,#ff3d00,#ff3700,#ff3200,#ff2e00,#ff2a00,#ff2700,#ff2300,#ff1f00,#ff1c00,#ff1800,#ff1400,#ff1100,#ff0d00,#ff0a00,#ff0900,#ff0700,#ff0600,#ff0500,#ff0400,#ff0300,#ff0100,#ff0000,#fe0000,#fc0000,#fa0000,#f80000,#f50000,#f30000,#f00000,#ed0000,#ea0000,#e70000,#e40000,#e00000,#dc0000,#d80000,#d40000,#d00000,#cc0000,#c80000,#c30000,#be0000,#b90000,#b40000,#af0000,#aa0000,#a50000,#a00000,#9b0000,#950000,#900000,#8a0000,#850000,#800000,#7a0000,#750000,#6f0000,#690000,#640000,#5e0000,#570000,#510000,#4a0000,#430000,#3b0000,#340000,#2e0000,#290000,#230000,#1d0000,#180000,#120000)"></i>
<i style="left:374.0px;width:3.5px;top:36.0px;height:427.7px;background:linear-gradient(#ff3d00,#ff3700,#ff3200,#ff2e00,#ff2a00,#ff2700,#ff2300,#ff1f00,#ff1c00,#ff1800,#ff1400,#ff1100,#ff0d00,#ff0a00,#ff0900,#ff0800,#ff0600,#ff0500,#ff0400,#ff0300,#ff0200,#ff0100,#fe0000,#fd0000,#fb0000,#f80000,#f60000,#f40000,#f10000,#ee0000,#eb0000,#e80000,#e50000,#e20000,#de0000,#da0000,#d60000,#d20000,#ce0000,#ca0000,#c50000,#c00000,#bc0000,#b70000,#b20000,#ad0000,#a80000,#a30000,#9e0000,#990000,#930000,#8e0000,#890000,#830000,#7e0000,#790000,#730000,#6e0000,#680000,#630000,#5c0000,#560000,#500000,#490000,#420000,#3a0000,#330000,#2e0000,#280000,#230000,#1d0000,#170000,#120000)"></i>
<i style="left:377.0px;width:3.5px;top:36.0px;height:427.7px;background:linear-gradient(#ff3700,#ff3200,#ff2e00,#ff2a00,#ff2600,#ff2300,#ff1f00,#ff1c00,#ff1800,#ff1500,#ff1100,#ff0e00,#ff0a00,#ff0900,#ff0800,#ff0700,#ff0500,#ff0400,#ff0300,#ff0200,#ff0100,#ff0000,#fd0000,#fb0000,#f90000,#f70000,#f40000,#f20000,#ef0000,#ec0000,#e90000,#e60000,#e30000,#df0000,#dc0000,#d80000,#d40000,#d00000,#cc0000,#c80000,#c30000,#be0000,#b90000,#b50000,#b00000,#ab0000,#a60000,#a10000,#9c0000,#970000,#920000,#8c0000,#870000,#820000,#7d0000,#770000,#720000,#6c0000,#670000,#610000,#5b0000,#550000,#4f0000,#480000,#410000,#3a0000,#330000,#2d0000,#280000,#220000,#1d0000,#170000,#120000)"></i>
<i style="left:380.0px;width:3.5px;top:36.0px;height:427.7px;background:linear-gradient(#ff3100,#ff2e00,#ff2a00,#ff2600,#ff2300,#ff1f00,#ff1c00,#ff1800,#ff1500,#ff1100,#ff0e00,#ff0a00,#ff0900,#ff0800,#ff0700,#ff0600,#ff0400,#ff0300,#ff0200,#ff0100,#ff0000,#fe0000,#fc0000,#fa0000,#f70000,#f50000,#f30000,#f00000,#ed0000,#ea0000,#e70000,#e40000,#e10000,#dd0000,#d90000,#d50000,#d20000,#ce0000,#ca0000,#c50000,#c10000,#bc0000,#b70000,#b30000,#ae0000,#a90000,#a40000,#9f0000,#9a0000,#950000,#900000,#8b0000,#850000,#800000,#7b0000,#760000,#700000,#6b0000,#660000,#600000,#5a0000,#540000,#4e0000,#470000,#400000,#390000,#320000,#2d0000,#270000,#220000,#1d0000,#170000,#120000)"></i>
<i style="left:383.0px;width:3.5px;top:36.0px;height:427.7px;background:linear-gradient(#ff2d00,#ff2a00,#ff2600,#ff2300,#ff1f00,#ff1c00,#ff1800,#ff1500,#ff1200,#ff0e00,#ff0b00,#ff0900,#ff0800,#ff0700,#ff0600,#ff0500,#ff0400,#ff0200,#ff0100,#ff0000,#fe0000,#fc0000,#fa0000,#f80000,#f60000,#f30000,#f10000,#ee0000,#eb0000,#e80000,#e50000,#e20000,#df0000,#db0000,#d70000,#d30000,#d00000,#cc0000,#c80000,#c30000,#be0000,#ba0000,#b50000,#b10000,#ac0000,#a70000,#a20000,#9d0000,#980000,#930000,#8e0000,#890000,#840000,#7f0000,#7a0000,#740000,#6f0000,#6a0000,#650000,#5f0000,#590000,#530000,#4d0000,#460000,#3f0000,#380000,#320000,#2c0000,#270000,#220000,#1c0000,#170000,#120000)"></i>
<i style="left:386.0px;width:3.5px;top:36.0px;height:427.7px;background:linear-gradient(#ff2a00,#ff2600,#ff2300,#ff1f00,#ff1c00,#ff1900,#ff1500,#ff1200,#ff0e00,#ff0b00,#ff0900,#ff0800,#ff0700,#ff0600,#ff0500,#ff0400,#ff0300,#ff0100,#ff0000,#fe0000,#fd0000,#fb0000,#f90000,#f60000,#f40000,#f20000,#ef0000,#ec0000,#e90000,#e60000,#e40000,#e00000,#dc0000,#d90000,#d50000,#d10000,#ce0000,#ca0000,#c50000,#c10000,#bc0000,#b80000,#b30000,#af0000,#aa0000,#a50000,#a00000,#9c0000,#970000,#920000,#8c0000,#870000,#820000,#7d0000,#780000,#730000,#6e0000,#690000,#630000,#5e0000,#580000,#520000,#4c0000,#450000,#3e0000,#370000,#310000,#2c0000,#270000,#210000,#1c0000,#170000,#120000)"></i>
<i style="left:389.0px;width:3.5px;top:36.0px;height:427.7px;background:linear-gradient(#ff2600,#ff2300,#ff1f00,#ff1c00,#ff1900,#ff1500,#ff1200,#ff0f00,#ff0b00,#ff0900,#ff0800,#ff0700,#ff0600,#ff0500,#ff0400,#ff0300,#ff0200,#ff0100,#ff0000,#fd0000,#fb0000,#f90000,#f70000,#f50000,#f20000,#f00000,#ed0000,#ea0000,#e70000,#e50000,#e20000,#de0000,#da0000,#d70000,#d30000,#cf0000,#cc0000,#c70000,#c30000,#bf0000,#ba0000,#b60000,#b10000,#ad0000,#a80000,#a30000,#9e0000,#9a0000,#950000,#900000,#8b0000,#860000,#810000,#7c0000,#770000,#720000,#6d0000,#670000,#620000,#5c0000,#560000,#510000,#4b0000,#440000,#3d0000,#360000,#310000,#2b0000,#260000,#210000,#1c0000,#170000,#110000)"></i>
<i style="left:392.0px;width:3.5px;top:36.0px;height:427.7px;background:linear-gradient(#ff2300,#ff1f00,#ff1c00,#ff1900,#ff1500,#ff1200,#ff0f00,#ff0b00,#ff0a00,#ff0800,#ff0700,#ff0600,#ff0500,#ff0400,#ff0300,#ff0200,#ff0100,#ff0000,#fe0000,#fc0000,#fa0000,#f70000,#f50000,#f30000,#f10000,#ee0000,#eb0000,#e80000,#e60000,#e30000,#df0000,#dc0000,#d80000,#d50000,#d10000,#cd0000,#ca0000,#c50000,#c10000,#bc0000,#b80000,#b40000,#af0000,#ab0000,#a60000,#a10000,#9d0000,#980000,#930000,#8e0000,#890000,#840000,#7f0000,#7a0000,#750000,#700000,#6b0000,#660000,#610000,#5b0000,#550000,#500000,#4a0000,#430000,#3c0000,#360000,#300000,#2b0000,#260000,#210000,#1c0000,#160000,#110000)"></i>
<i style="left:395.0px;width:3.5px;top:36.0px;height:427.7px;background:linear-gradient(#ff1f00,#ff1c00,#ff1900,#ff1600,#ff1200,#ff0f00,#ff0c00,#ff0a00,#ff0900,#ff0700,#ff0600,#ff0500,#ff0400,#ff0300,#ff0200,#ff0100,#ff0000,#fe0000,#fc0000,#fa0000,#f80000,#f60000,#f40000,#f20000,#ef0000,#ec0000,#e90000,#e70000,#e40000,#e10000,#dd0000,#da0000,#d60000,#d30000,#cf0000,#cb0000,#c70000,#c30000,#bf0000,#ba0000,#b60000,#b20000,#ad0000,#a90000,#a40000,#a00000,#9b0000,#960000,#910000,#8c0000,#880000,#830000,#7e0000,#790000,#740000,#6f0000,#6a0000,#650000,#600000,#5a0000,#540000,#4f0000,#490000,#420000,#3b0000,#350000,#300000,#2b0000,#260000,#200000,#1b0000,#160000,#110000)"></i>
<i style="left:398.0px;width:3.5px;top:36.0px;height:427.7px;background:linear-gradient(#ff1c00,#ff1900,#ff1600,#ff1200,#ff0f00,#ff0c00,#ff0a00,#ff0900,#ff0800,#ff0700,#ff0500,#ff0400,#ff0300,#ff0200,#ff0100,#ff0000,#fe0000,#fd0000,#fb0000,#f90000,#f70000,#f40000,#f20000,#f00000,#ed0000,#ea0000,#e80000,#e50000,#e20000,#df0000,#db0000,#d80000,#d40000,#d10000,#cd0000,#c90000,#c50000,#c10000,#bd0000,#b80000,#b40000,#b00000,#ab0000,#a70000,#a20000,#9e0000,#990000,#940000,#900000,#8b0000,#860000,#810000,#7d0000,#780000,#730000,#6e0000,#690000,#640000,#5f0000,#590000,#530000,#4e0000,#480000,#410000,#3b0000,#340000,#2f0000,#2a0000,#250000,#200000,#1b0000,#160000,#110000)"></i>
<i style="left:401.0px;width:3.5px;top:36.0px;height:427.7px;background:linear-gradient(#ff1900,#ff1600,#ff1300,#ff0f00,#ff0c00,#ff0a00,#ff0900,#ff0800,#ff0700,#ff0600,#ff0500,#ff0400,#ff0200,#ff0100,#ff0000,#fe0000,#fd0000,#fb0000,#f90000,#f70000,#f50000,#f30000,#f10000,#ee0000,#eb0000,#e90000,#e60000,#e30000,#e00000,#dd0000,#d90000,#d60000,#d20000,#cf0000,#cb0000,#c70000,#c30000,#bf0000,#bb0000,#b60000,#b20000,#ae0000,#a90000,#a50000,#a10000,#9c0000,#980000,#930000,#8e0000,#890000,#850000,#800000,#7b0000,#760000,#720000,#6d0000,#680000,#630000,#5e0000,#580000,#520000,#4d0000,#470000,#400000,#3a0000,#340000,#2f0000,#2a0000,#250000,#200000,#1b0000,#160000,#110000)"></i>
<i style="left:404.0px;width:3.5px;top:36.0px;height:427.7px;background:linear-gradient(#ff1600,#ff1300,#ff0f00,#ff0c00,#ff0a00,#ff0900,#ff0800,#ff0700,#ff0600,#ff0500,#ff0400,#ff0300,#ff0200,#ff0100,#ff0000,#fe0000,#fc0000,#fa0000,#f80000,#f60000,#f40000,#f10000,#ef0000,#ec0000,#ea0000,#e70000,#e40000,#e10000,#de0000,#db0000,#d70000,#d40000,#d00000,#cd0000,#c90000,#c50000,#c10000,#bd0000,#b90000,#b40000,#b00000,#ac0000,#a80000,#a30000,#9f0000,#9a0000,#960000,#910000,#8c0000,#880000,#830000,#7f0000,#7a0000,#750000,#700000,#6c0000,#670000,#620000,#5c0000,#570000,#510000,#4c0000,#460000,#3f0000,#390000,#330000,#2e0000,#290000,#250000,#200000,#1b0000,#160000,#110000)"></i>
<i style="left:407.0px;width:3.5px;top:36.0px;height:427.7px;background:linear-gradient(#ff1300,#ff1000,#ff0d00,#ff0a00,#ff0900,#ff0800,#ff0700,#ff0600,#ff0500,#ff0400,#ff0300,#ff0200,#ff0100,#ff0000,#fe0000,#fc0000,#fa0000,#f80000,#f60000,#f40000,#f20000,#f00000,#ed0000,#ea0000,#e80000,#e50000,#e30000,#df0000,#dc0000,#d90000,#d50000,#d20000,#ce0000,#cb0000,#c70000,#c30000,#bf0000,#bb0000,#b70000,#b30000,#ae0000,#aa0000,#a60000,#a10000,#9d0000,#990000,#940000,#900000,#8b0000,#860000,#820000,#7d0000,#790000,#740000,#6f0000,#6a0000,#660000,#610000,#5b0000,#560000,#500000,#4b0000,#450000,#3f0000,#380000,#330000,#2e0000,#290000,#240000,#1f0000,#1b0000,#160000,#110000)"></i>
<i style="left:410.0px;width:3.5px;top:36.0px;height:427.7px;background:linear-gradient(#ff1000,#ff0d00,#ff0a00,#ff0900,#ff0800,#ff0700,#ff0600,#ff0500,#ff0400,#ff0300,#ff0200,#ff0100,#ff0000,#fe0000,#fd0000,#fb0000,#f90000,#f70000,#f50000,#f30000,#f00000,#ee0000,#eb0000,#e90000,#e60000,#e40000,#e10000,#dd0000,#da0000,#d70000,#d30000,#d00000,#cd0000,#c90000,#c50000,#c10000,#bd0000,#b90000,#b50000,#b10000,#ad0000,#a80000,#a40000,#a00000,#9b0000,#970000,#920000,#8e0000,#890000,#850000,#800000,#7c0000,#770000,#730000,#6e0000,#690000,#650000,#600000,#5a0000,#550000,#4f0000,#4a0000,#440000,#3e0000,#380000,#320000,#2d0000,#290000,#240000,#1f0000,#1a0000,#160000,#110000)"></i>
<i style="left:413.0px;width:3.5px;top:36.0px;height:427.7px;background:linear-gradient(#ff0d00,#ff0a00,#ff0900,#ff0800,#ff0700,#ff0600,#ff0500,#ff0400,#ff0300,#ff0200,#ff0100,#ff0000,#fe0000,#fd0000,#fb0000,#f90000,#f70000,#f50000,#f30000,#f10000,#ef0000,#ec0000,#ea0000,#e70000,#e40000,#e20000,#df0000,#db0000,#d80000,#d50000,#d10000,#ce0000,#cb0000,#c70000,#c30000,#bf0000,#bb0000,#b70000,#b30000,#af0000,#ab0000,#a70000,#a20000,#9e0000,#9a0000,#950000,#910000,#8c0000,#880000,#830000,#7f0000,#7b0000,#760000,#710000,#6d0000,#680000,#640000,#5e0000,#590000,#540000,#4f0000,#490000,#430000,#3d0000,#370000,#320000,#2d0000,#280000,#240000,#1f0000,#1a0000,#160000,#110000)"></i>
<i style="left:416.0px;width:3.5px;top:36.0px;height:427.7px;background:linear-gradient(#ff0a00,#ff0900,#ff0800,#ff0700,#ff0600,#ff0500,#ff0400,#ff0300,#ff0200,#ff0100,#ff0000,#fe0000,#fd0000,#fc0000,#fa0000,#f80000,#f60000,#f40000,#f20000,#ef0000,#ed0000,#ea0000,#e80000,#e50000,#e30000,#e00000,#dd0000,#d90000,#d60000,#d30000,#d00000,#cc0000,#c90000,#c50000,#c10000,#bd0000,#b90000,#b50000,#b10000,#ad0000,#a90000,#a50000,#a10000,#9c0000,#980000,#940000,#8f0000,#8b0000,#870000,#820000,#7e0000,#790000,#750000,#700000,#6c0000,#670000,#630000,#5d0000,#580000,#530000,#4e0000,#480000,#420000,#3c0000,#360000,#310000,#2d0000,#280000,#230000,#1f0000,#1a0000,#150000,#110000)"></i>
<i style="left:419.0px;width:3.5px;top:36.0px;height:427.7px;background:linear-gradient(#ff0900,#ff0800,#ff0700,#ff0600,#ff0500,#ff0400,#ff0300,#ff0200,#ff0200,#ff0100,#ff0000,#fe0000,#fc0000,#fa0000,#f80000,#f60000,#f40000,#f20000,#f00000,#ee0000,#eb0000,#e90000,#e60000,#e40000,#e10000,#de0000,#db0000,#d70000,#d40000,#d10000,#ce0000,#cb0000,#c70000,#c30000,#bf0000,#bb0000,#b70000,#b30000,#af0000,#ab0000,#a70000,#a30000,#9f0000,#9b0000,#970000,#920000,#8e0000,#890000,#850000,#810000,#7c0000,#780000,#740000,#6f0000,#6b0000,#660000,#610000,#5c0000,#570000,#520000,#4d0000,#470000,#410000,#3b0000,#350000,#310000,#2c0000,#280000,#230000,#1e0000,#1a0000,#150000,#110000)"></i>
<i style="left:422.0px;width:3.5px;top:36.0px;height:427.7px;background:linear-gradient(#ff0800,#ff0700,#ff0600,#ff0500,#ff0500,#ff0400,#ff0300,#ff0200,#ff0100,#ff0000,#fe0000,#fc0000,#fb0000,#f90000,#f70000,#f50000,#f30000,#f10000,#ee0000,#ec0000,#ea0000,#e70000,#e50000,#e20000,#df0000,#dc0000,#d90000,#d60000,#d20000,#cf0000,#cc0000,#c90000,#c50000,#c10000,#bd0000,#b90000,#b50000,#b10000,#ae0000,#aa0000,#a50000,#a10000,#9d0000,#990000,#950000,#910000,#8c0000,#880000,#840000,#7f0000,#7b0000,#770000,#720000,#6e0000,#690000,#650000,#600000,#5b0000,#560000,#510000,#4c0000,#460000,#410000,#3b0000,#350000,#300000,#2c0000,#270000,#230000,#1e0000,#1a0000,#150000,#110000)"></i>
<i style="left:425.0px;width:3.5px;top:36.0px;height:427.7px;background:linear-gradient(#ff0700,#ff0700,#ff0600,#ff0500,#ff0400,#ff0300,#ff0200,#ff0100,#ff0000,#fe0000,#fd0000,#fb0000,#f90000,#f70000,#f50000,#f30000,#f20000,#ef0000,#ed0000,#ea0000,#e80000,#e60000,#e30000,#e00000,#dd0000,#da0000,#d70000,#d40000,#d10000,#cd0000,#ca0000,#c70000,#c30000,#bf0000,#bb0000,#b70000,#b40000,#b00000,#ac0000,#a80000,#a40000,#a00000,#9c0000,#980000,#930000,#8f0000,#8b0000,#870000,#820000,#7e0000,#7a0000,#760000,#710000,#6d0000,#680000,#640000,#5f0000,#5a0000,#550000,#500000,#4b0000,#460000,#400000,#3a0000,#340000,#300000,#2b0000,#270000,#220000,#1e0000,#1a0000,#150000,#110000)"></i>
<i style="left:428.0px;width:3.5px;top:36.0px;height:427.7px;background:linear-gradient(#ff0700,#ff0600,#ff0500,#ff0400,#ff0300,#ff0200,#ff0100,#ff0000,#fe0000,#fd0000,#fb0000,#fa0000,#f80000,#f60000,#f40000,#f20000,#f00000,#ee0000,#eb0000,#e90000,#e60000,#e40000,#e10000,#de0000,#db0000,#d80000,#d50000,#d20000,#cf0000,#cc0000,#c80000,#c50000,#c10000,#bd0000,#b90000,#b60000,#b20000,#ae0000,#aa0000,#a60000,#a20000,#9e0000,#9a0000,#960000,#920000,#8e0000,#890000,#850000,#810000,#7d0000,#790000,#740000,#700000,#6c0000,#670000,#630000,#5e0000,#590000,#540000,#4f0000,#4a0000,#450000,#3f0000,#390000,#340000,#2f0000,#2b0000,#270000,#220000,#1e0000,#190000,#150000,#110000)"></i>
<i style="left:431.0px;width:3.5px;top:36.0px;height:427.7px;background:linear-gradient(#ff0600,#ff0500,#ff0400,#ff0300,#ff0200,#ff0100,#ff0000,#fe0000,#fd0000,#fc0000,#fa0000,#f80000,#f60000,#f40000,#f30000,#f10000,#ee0000,#ec0000,#ea0000,#e70000,#e50000,#e20000,#e00000,#dc0000,#d90000,#d60000,#d30000,#d00000,#cd0000,#ca0000,#c60000,#c30000,#bf0000,#bb0000,#b80000,#b40000,#b00000,#ac0000,#a80000,#a40000,#a10000,#9d0000,#990000,#950000,#900000,#8c0000,#880000,#840000,#800000,#7c0000,#770000,#730000,#6f0000,#6b0000,#660000,#620000,#5d0000,#580000,#530000,#4e0000,#4a0000,#440000,#3e0000,#380000,#330000,#2f0000,#2b0000,#260000,#220000,#1e0000,#190000,#150000,#100000)"></i>
<i style="left:434.0px;width:3.5px;top:36.0px;height:427.7px;background:linear-gradient(#ff0500,#ff0400,#ff0300,#ff0200,#ff0100,#ff0000,#ff0000,#fe0000,#fc0000,#fa0000,#f90000,#f70000,#f50000,#f30000,#f10000,#ef0000,#ed0000,#ea0000,#e80000,#e60000,#e30000,#e10000,#de0000,#db0000,#d80000,#d50000,#d20000,#cf0000,#cc0000,#c80000,#c40000,#c10000,#bd0000,#b90000,#b60000,#b20000,#ae0000,#ab0000,#a70000,#a30000,#9f0000,#9b0000,#970000,#930000,#8f0000,#8b0000,#870000,#830000,#7f0000,#7a0000,#760000,#720000,#6e0000,#6a0000,#650000,#610000,#5c0000,#570000,#520000,#4e0000,#490000,#430000,#3d0000,#380000,#330000,#2e0000,#2a0000,#260000,#220000,#1d0000,#190000,#150000,#100000)"></i>
<i style="left:437.0px;width:3.5px;top:36.0px;height:427.7px;background:linear-gradient(#ff0400,#ff0300,#ff0200,#ff0200,#ff0100,#ff0000,#fe0000,#fd0000,#fb0000,#f90000,#f70000,#f50000,#f40000,#f20000,#f00000,#ed0000,#eb0000,#e90000,#e60000,#e40000,#e20000,#df0000,#dc0000,#d90000,#d60000,#d30000,#d00000,#cd0000,#ca0000,#c60000,#c30000,#bf0000,#bb0000,#b80000,#b40000,#b00000,#ad0000,#a90000,#a50000,#a10000,#9d0000,#9a0000,#960000,#920000,#8d0000,#890000,#850000,#810000,#7d0000,#790000,#750000,#710000,#6d0000,#690000,#640000,#600000,#5b0000,#560000,#520000,#4d0000,#480000,#420000,#3d0000,#370000,#320000,#2e0000,#2a0000,#260000,#210000,#1d0000,#190000,#150000,#100000)"></i>
<i style="left:440.0px;width:3.5px;top:36.0px;height:427.7px;background:linear-gradient(#ff0300,#ff0300,#ff0200,#ff0100,#ff0000,#fe0000,#fd0000,#fb0000,#f90000,#f80000,#f60000,#f40000,#f20000,#f00000,#ee0000,#ec0000,#e90000,#e70000,#e50000,#e30000,#e00000,#dd0000,#da0000,#d70000,#d40000,#d10000,#ce0000,#cb0000,#c80000,#c40000,#c10000,#bd0000,#ba0000,#b60000,#b20000,#af0000,#ab0000,#a70000,#a30000,#a00000,#9c0000,#980000,#940000,#900000,#8c0000,#880000,#840000,#800000,#7c0000,#780000,#740000,#700000,#6c0000,#680000,#640000,#5f0000,#5a0000,#550000,#510000,#4c0000,#470000,#410000,#3c0000,#360000,#320000,#2e0000,#290000,#250000,#210000,#1d0000,#190000,#150000,#100000)"></i>
<i style="left:443.0px;width:3.5px;top:36.0px;height:427.7px;background:linear-gradient(#ff0300,#ff0200,#ff0100,#ff0000,#fe0000,#fd0000,#fc0000,#fa0000,#f80000,#f60000,#f50000,#f30000,#f10000,#ef0000,#ec0000,#ea0000,#e80000,#e60000,#e30000,#e10000,#de0000,#db0000,#d80000,#d50000,#d20000,#cf0000,#cd0000,#c90000,#c60000,#c20000,#bf0000,#bb0000,#b80000,#b40000,#b10000,#ad0000,#a90000,#a60000,#a20000,#9e0000,#9a0000,#970000,#930000,#8f0000,#8b0000,#870000,#830000,#7f0000,#7b0000,#770000,#730000,#6f0000,#6b0000,#670000,#630000,#5e0000,#590000,#550000,#500000,#4b0000,#460000,#410000,#3b0000,#360000,#310000,#2d0000,#290000,#250000,#210000,#1d0000,#190000,#140000,#100000)"></i>
<i style="left:446.0px;width:3.5px;top:36.0px;height:427.7px;background:linear-gradient(#ff0200,#ff0100,#ff0000,#fe0000,#fd0000,#fc0000,#fa0000,#f80000,#f70000,#f50000,#f30000,#f20000,#ef0000,#ed0000,#eb0000,#e90000,#e60000,#e40000,#e20000,#df0000,#dc0000,#d90000,#d60000,#d40000,#d10000,#ce0000,#cb0000,#c80000,#c40000,#c10000,#bd0000,#ba0000,#b60000,#b30000,#af0000,#ab0000,#a80000,#a40000,#a00000,#9d0000,#990000,#950000,#910000,#8d0000,#890000,#850000,#820000,#7e0000,#7a0000,#760000,#720000,#6e0000,#6a0000,#660000,#620000,#5d0000,#580000,#540000,#4f0000,#4a0000,#450000,#400000,#3a0000,#350000,#310000,#2d0000,#290000,#250000,#210000,#1c0000,#180000,#140000,#100000)"></i>
<i style="left:449.0px;width:3.5px;top:36.0px;height:427.7px;background:linear-gradient(#ff0100,#ff0000,#fe0000,#fe0000,#fc0000,#fb0000,#f90000,#f70000,#f50000,#f40000,#f20000,#f00000,#ee0000,#ec0000,#e90000,#e70000,#e50000,#e30000,#e00000,#dd0000,#da0000,#d80000,#d50000,#d20000,#cf0000,#cc0000,#c90000,#c60000,#c20000,#bf0000,#bb0000,#b80000,#b40000,#b10000,#ae0000,#aa0000,#a60000,#a30000,#9f0000,#9b0000,#970000,#940000,#900000,#8c0000,#880000,#840000,#800000,#7c0000,#790000,#750000,#710000,#6d0000,#690000,#650000,#610000,#5c0000,#570000,#530000,#4e0000,#4a0000,#440000,#3f0000,#3a0000,#350000,#300000,#2c0000,#280000,#240000,#200000,#1c0000,#180000,#140000,#100000)"></i>
<i style="left:452.0px;width:3.5px;top:36.0px;height:427.7px;background:linear-gradient(#ff0000,#ff0000,#fe0000,#fd0000,#fb0000,#f90000,#f70000,#f60000,#f40000,#f20000,#f10000,#ee0000,#ec0000,#ea0000,#e80000,#e60000,#e40000,#e10000,#de0000,#dc0000,#d90000,#d60000,#d30000,#d00000,#cd0000,#cb0000,#c70000,#c40000,#c00000,#bd0000,#ba0000,#b60000,#b30000,#af0000,#ac0000,#a80000,#a50000,#a10000,#9d0000,#9a0000,#960000,#920000,#8e0000,#8b0000,#870000,#830000,#7f0000,#7b0000,#770000,#740000,#700000,#6c0000,#680000,#640000,#600000,#5b0000,#560000,#520000,#4d0000,#490000,#440000,#3e0000,#390000,#340000,#300000,#2c0000,#280000,#240000,#200000,#1c0000,#180000,#140000,#100000)"></i>
<i style="left:455.0px;width:3.5px;top:36.0px;height:427.7px;background:linear-gradient(#ff0000,#fe0000,#fd0000,#fb0000,#fa0000,#f80000,#f60000,#f50000,#f30000,#f10000,#ef0000,#ed0000,#eb0000,#e90000,#e60000,#e40000,#e20000,#df0000,#dd0000,#da0000,#d70000,#d40000,#d10000,#cf0000,#cc0000,#c90000,#c50000,#c20000,#bf0000,#bb0000,#b80000,#b50000,#b10000,#ae0000,#aa0000,#a70000,#a30000,#a00000,#9c0000,#980000,#950000,#910000,#8d0000,#890000,#850000,#820000,#7e0000,#7a0000,#760000,#720000,#6f0000,#6b0000,#670000,#630000,#5f0000,#5a0000,#560000,#510000,#4d0000,#480000,#430000,#3e0000,#380000,#340000,#300000,#2c0000,#280000,#240000,#200000,#1c0000,#180000,#140000,#100000)"></i>
<i style="left:458.0px;width:3.5px;top:36.0px;height:427.7px;background:linear-gradient(#fe0000,#fd0000,#fc0000,#fa0000,#f80000,#f70000,#f50000,#f30000,#f20000,#f00000,#ed0000,#eb0000,#e90000,#e70000,#e50000,#e30000,#e00000,#de0000,#db0000,#d80000,#d50000,#d30000,#d00000,#cd0000,#ca0000,#c70000,#c40000,#c00000,#bd0000,#ba0000,#b60000,#b30000,#b00000,#ac0000,#a90000,#a50000,#a20000,#9e0000,#9b0000,#970000,#930000,#8f0000,#8c0000,#880000,#840000,#810000,#7d0000,#790000,#750000,#710000,#6e0000,#6a0000,#660000,#620000,#5e0000,#590000,#550000,#500000,#4c0000,#470000,#420000,#3d0000,#380000,#330000,#2f0000,#2b0000,#270000,#240000,#200000,#1c0000,#180000,#140000,#100000)"></i>
<i style="left:461.0px;width:3.5px;top:36.0px;height:427.7px;background:linear-gradient(#fd0000,#fc0000,#fa0000,#f90000,#f70000,#f50000,#f40000,#f20000,#f00000,#ee0000,#ec0000,#ea0000,#e80000,#e60000,#e40000,#e10000,#df0000,#dc0000,#d90000,#d60000,#d40000,#d10000,#ce0000,#cc0000,#c80000,#c50000,#c20000,#bf0000,#bb0000,#b80000,#b50000,#b10000,#ae0000,#ab0000,#a70000,#a40000,#a00000,#9d0000,#990000,#950000,#920000,#8e0000,#8a0000,#870000,#830000,#7f0000,#7c0000,#780000,#740000,#700000,#6d0000,#690000,#650000,#610000,#5d0000,#580000,#540000,#500000,#4b0000,#460000,#410000,#3c0000,#370000,#330000,#2f0000,#2b0000,#270000,#230000,#1f0000,#1c0000,#180000,#140000,#100000)"></i>
<i style="left:464.0px;width:3.5px;top:36.0px;height:427.7px;background:linear-gradient(#fc0000,#fb0000,#f90000,#f70000,#f60000,#f40000,#f20000,#f10000,#ef0000,#ed0000,#ea0000,#e80000,#e60000,#e40000,#e20000,#e00000,#dd0000,#da0000,#d70000,#d50000,#d20000,#cf0000,#cd0000,#ca0000,#c70000,#c30000,#c00000,#bd0000,#ba0000,#b60000,#b30000,#b00000,#ad0000,#a90000,#a60000,#a20000,#9f0000,#9b0000,#980000,#940000,#900000,#8d0000,#890000,#850000,#820000,#7e0000,#7b0000,#770000,#730000,#6f0000,#6c0000,#680000,#640000,#600000,#5c0000,#570000,#530000,#4f0000,#4a0000,#460000,#410000,#3c0000,#370000,#320000,#2e0000,#2b0000,#270000,#230000,#1f0000,#1b0000,#180000,#140000,#100000)"></i>
<i style="left:467.0px;width:3.5px;top:36.0px;height:427.7px;background:linear-gradient(#fb0000,#f90000,#f80000,#f60000,#f40000,#f30000,#f10000,#ef0000,#ed0000,#eb0000,#e90000,#e70000,#e50000,#e30000,#e00000,#de0000,#db0000,#d80000,#d60000,#d30000,#d10000,#ce0000,#cb0000,#c80000,#c50000,#c20000,#be0000,#bb0000,#b80000,#b50000,#b20000,#ae0000,#ab0000,#a80000,#a40000,#a10000,#9d0000,#9a0000,#960000,#930000,#8f0000,#8b0000,#880000,#840000,#810000,#7d0000,#790000,#760000,#720000,#6e0000,#6b0000,#670000,#630000,#5f0000,#5b0000,#570000,#520000,#4e0000,#4a0000,#450000,#400000,#3b0000,#360000,#320000,#2e0000,#2a0000,#270000,#230000,#1f0000,#1b0000,#170000,#140000,#100000)"></i>
<i style="left:470.0px;width:3.5px;top:36.0px;height:427.7px;background:linear-gradient(#fa0000,#f80000,#f60000,#f50000,#f30000,#f20000,#f00000,#ee0000,#ec0000,#ea0000,#e80000,#e60000,#e40000,#e10000,#df0000,#dc0000,#d90000,#d70000,#d40000,#d20000,#cf0000,#cc0000,#ca0000,#c60000,#c30000,#c00000,#bd0000,#ba0000,#b60000,#b30000,#b00000,#ad0000,#a90000,#a60000,#a30000,#9f0000,#9c0000,#990000,#950000,#910000,#8e0000,#8a0000,#870000,#830000,#800000,#7c0000,#780000,#750000,#710000,#6d0000,#6a0000,#660000,#620000,#5e0000,#5a0000,#560000,#510000,#4d0000,#490000,#440000,#3f0000,#3a0000,#350000,#310000,#2e0000,#2a0000,#260000,#230000,#1f0000,#1b0000,#170000,#140000,#100000)"></i>
<i style="left:473.0px;width:3.5px;top:36.0px;height:427.7px;background:linear-gradient(#f80000,#f70000,#f50000,#f40000,#f20000,#f00000,#ee0000,#ec0000,#ea0000,#e80000,#e60000,#e40000,#e20000,#e00000,#dd0000,#da0000,#d80000,#d50000,#d30000,#d00000,#cd0000,#cb0000,#c80000,#c50000,#c20000,#be0000,#bb0000,#b80000,#b50000,#b20000,#af0000,#ab0000,#a80000,#a50000,#a10000,#9e0000,#9b0000,#970000,#940000,#900000,#8d0000,#890000,#850000,#820000,#7e0000,#7b0000,#770000,#740000,#700000,#6c0000,#690000,#650000,#610000,#5d0000,#590000,#550000,#510000,#4c0000,#480000,#430000,#3e0000,#3a0000,#350000,#310000,#2d0000,#2a0000,#260000,#220000,#1f0000,#1b0000,#170000,#140000,#100000)"></i>
<i style="left:476.0px;width:3.5px;top:36.0px;height:427.7px;background:linear-gradient(#f70000,#f60000,#f40000,#f20000,#f10000,#ef0000,#ed0000,#eb0000,#e90000,#e70000,#e50000,#e30000,#e10000,#de0000,#db0000,#d90000,#d60000,#d40000,#d10000,#cf0000,#cc0000,#c90000,#c60000,#c30000,#c00000,#bd0000,#ba0000,#b60000,#b30000,#b00000,#ad0000,#aa0000,#a60000,#a30000,#a00000,#9d0000,#990000,#960000,#920000,#8f0000,#8b0000,#880000,#840000,#810000,#7d0000,#7a0000,#760000,#730000,#6f0000,#6b0000,#680000,#640000,#600000,#5c0000,#580000,#540000,#500000,#4c0000,#470000,#430000,#3e0000,#390000,#340000,#310000,#2d0000,#290000,#260000,#220000,#1e0000,#1b0000,#170000,#130000,#100000)"></i>
<i style="left:479.0px;width:3.5px;top:36.0px;height:427.7px;background:linear-gradient(#f60000,#f40000,#f30000,#f10000,#ef0000,#ed0000,#eb0000,#e90000,#e70000,#e60000,#e40000,#e10000,#df0000,#dc0000,#da0000,#d70000,#d50000,#d20000,#d00000,#cd0000,#cb0000,#c70000,#c40000,#c10000,#be0000,#bb0000,#b80000,#b50000,#b20000,#af0000,#ac0000,#a80000,#a50000,#a20000,#9e0000,#9b0000,#980000,#940000,#910000,#8d0000,#8a0000,#870000,#830000,#800000,#7c0000,#790000,#750000,#720000,#6e0000,#6b0000,#670000,#630000,#600000,#5b0000,#570000,#530000,#4f0000,#4b0000,#470000,#420000,#3d0000,#380000,#340000,#300000,#2d0000,#290000,#250000,#220000,#1e0000,#1b0000,#170000,#130000,#100000)"></i>
<i style="left:482.0px;width:3.5px;top:36.0px;height:427.7px;background:linear-gradient(#f50000,#f30000,#f20000,#f00000,#ee0000,#ec0000,#ea0000,#e80000,#e60000,#e40000,#e20000,#e00000,#dd0000,#db0000,#d80000,#d60000,#d30000,#d10000,#ce0000,#cc0000,#c90000,#c60000,#c30000,#c00000,#bd0000,#ba0000,#b60000,#b30000,#b00000,#ad0000,#aa0000,#a70000,#a40000,#a00000,#9d0000,#9a0000,#970000,#930000,#900000,#8c0000,#890000,#850000,#820000,#7f0000,#7b0000,#780000,#740000,#710000,#6d0000,#6a0000,#660000,#630000,#5f0000,#5b0000,#570000,#520000,#4e0000,#4a0000,#460000,#410000,#3c0000,#380000,#330000,#300000,#2c0000,#290000,#250000,#220000,#1e0000,#1a0000,#170000,#130000,#100000)"></i>
<i style="left:485.0px;width:3.5px;top:36.0px;height:427.7px;background:linear-gradient(#f40000,#f20000,#f00000,#ee0000,#ed0000,#eb0000,#e90000,#e70000,#e50000,#e30000,#e10000,#de0000,#dc0000,#d90000,#d70000,#d40000,#d20000,#cf0000,#cd0000,#ca0000,#c70000,#c40000,#c10000,#be0000,#bb0000,#b80000,#b50000,#b20000,#af0000,#ac0000,#a90000,#a50000,#a20000,#9f0000,#9c0000,#990000,#950000,#920000,#8e0000,#8b0000,#880000,#840000,#810000,#7d0000,#7a0000,#770000,#730000,#700000,#6c0000,#690000,#650000,#620000,#5e0000,#5a0000,#560000,#520000,#4e0000,#4a0000,#450000,#400000,#3c0000,#370000,#330000,#2f0000,#2c0000,#280000,#250000,#210000,#1e0000,#1a0000,#170000,#130000,#100000)"></i>
<i style="left:488.0px;width:3.5px;top:36.0px;height:427.7px;background:linear-gradient(#f20000,#f10000,#ef0000,#ed0000,#eb0000,#e90000,#e70000,#e50000,#e40000,#e10000,#df0000,#dd0000,#da0000,#d80000,#d50000,#d30000,#d00000,#ce0000,#cb0000,#c80000,#c50000,#c20000,#bf0000,#bc0000,#b90000,#b70000,#b40000,#b10000,#ae0000,#aa0000,#a70000,#a40000,#a10000,#9e0000,#9a0000,#970000,#940000,#910000,#8d0000,#8a0000,#860000,#830000,#800000,#7c0000,#790000,#760000,#720000,#6f0000,#6b0000,#680000,#640000,#610000,#5d0000,#590000,#550000,#510000,#4d0000,#490000,#440000,#400000,#3b0000,#370000,#330000,#2f0000,#2c0000,#280000,#250000,#210000,#1e0000,#1a0000,#170000,#130000,#100000)"></i>
<i style="left:491.0px;width:3.5px;top:36.0px;height:427.7px;background:linear-gradient(#f10000,#ef0000,#ee0000,#ec0000,#ea0000,#e80000,#e60000,#e40000,#e20000,#e00000,#dd0000,#db0000,#d90000,#d60000,#d40000,#d10000,#cf0000,#cc0000,#ca0000,#c70000,#c40000,#c10000,#be0000,#bb0000,#b80000,#b50000,#b20000,#af0000,#ac0000,#a90000,#a60000,#a30000,#9f0000,#9c0000,#990000,#960000,#930000,#8f0000,#8c0000,#890000,#850000,#820000,#7f0000,#7b0000,#780000,#750000,#710000,#6e0000,#6a0000,#670000,#640000,#600000,#5c0000,#580000,#540000,#500000,#4c0000,#480000,#440000,#3f0000,#3b0000,#360000,#320000,#2f0000,#2b0000,#280000,#240000,#210000,#1d0000,#1a0000,#170000,#130000,#100000)"></i>
<i style="left:494.0px;width:3.5px;top:36.0px;height:427.7px;background:linear-gradient(#f00000,#ee0000,#ec0000,#ea0000,#e80000,#e70000,#e50000,#e30000,#e10000,#de0000,#dc0000,#d90000,#d70000,#d50000,#d20000,#d00000,#cd0000,#cb0000,#c80000,#c50000,#c20000,#bf0000,#bc0000,#b90000,#b60000,#b40000,#b10000,#ae0000,#ab0000,#a70000,#a40000,#a10000,#9e0000,#9b0000,#980000,#950000,#910000,#8e0000,#8b0000,#880000,#840000,#810000,#7e0000,#7a0000,#770000,#740000,#700000,#6d0000,#6a0000,#660000,#630000,#5f0000,#5b0000,#570000,#530000,#4f0000,#4c0000,#480000,#430000,#3e0000,#3a0000,#350000,#320000,#2e0000,#2b0000,#280000,#240000,#210000,#1d0000,#1a0000,#160000,#130000,#100000)"></i>
<i style="left:497.0px;width:3.5px;top:36.0px;height:427.7px;background:linear-gradient(#ef0000,#ed0000,#eb0000,#e90000,#e70000,#e50000,#e30000,#e10000,#df0000,#dd0000,#da0000,#d80000,#d50000,#d30000,#d10000,#ce0000,#cc0000,#c90000,#c60000,#c40000,#c10000,#be0000,#bb0000,#b80000,#b50000,#b20000,#af0000,#ac0000,#a90000,#a60000,#a30000,#a00000,#9d0000,#9a0000,#970000,#930000,#900000,#8d0000,#8a0000,#860000,#830000,#800000,#7d0000,#790000,#760000,#730000,#6f0000,#6c0000,#690000,#650000,#620000,#5e0000,#5a0000,#560000,#530000,#4f0000,#4b0000,#470000,#420000,#3e0000,#390000,#350000,#310000,#2e0000,#2b0000,#270000,#240000,#200000,#1d0000,#1a0000,#160000,#130000,#0f0000)"></i>
<i style="left:500.0px;width:3.5px;top:36.0px;height:427.7px;background:linear-gradient(#ed0000,#eb0000,#ea0000,#e80000,#e60000,#e40000,#e20000,#e00000,#dd0000,#db0000,#d90000,#d60000,#d40000,#d20000,#cf0000,#cd0000,#cb0000,#c80000,#c50000,#c20000,#bf0000,#bc0000,#b90000,#b60000,#b40000,#b10000,#ae0000,#ab0000,#a80000,#a50000,#a20000,#9f0000,#9c0000,#990000,#950000,#920000,#8f0000,#8c0000,#880000,#850000,#820000,#7f0000,#7c0000,#780000,#750000,#720000,#6f0000,#6b0000,#680000,#650000,#610000,#5d0000,#590000,#560000,#520000,#4e0000,#4a0000,#460000,#420000,#3d0000,#390000,#340000,#310000,#2e0000,#2a0000,#270000,#240000,#200000,#1d0000,#1a0000,#160000,#130000,#0f0000)"></i>
<i style="left:503.0px;width:3.5px;top:36.0px;height:427.7px;background:linear-gradient(#ec0000,#ea0000,#e80000,#e60000,#e50000,#e30000,#e10000,#de0000,#dc0000,#da0000,#d70000,#d50000,#d30000,#d00000,#ce0000,#cc0000,#c90000,#c60000,#c30000,#c00000,#be0000,#bb0000,#b80000,#b50000,#b20000,#af0000,#ac0000,#a90000,#a60000,#a30000,#a00000,#9d0000,#9a0000,#970000,#940000,#910000,#8e0000,#8b0000,#870000,#840000,#810000,#7e0000,#7b0000,#770000,#740000,#710000,#6e0000,#6a0000,#670000,#640000,#600000,#5c0000,#590000,#550000,#510000,#4d0000,#4a0000,#450000,#410000,#3d0000,#380000,#340000,#310000,#2d0000,#2a0000,#270000,#230000,#200000,#1d0000,#190000,#160000,#130000,#0f0000)"></i>
<i style="left:506.0px;width:3.5px;top:36.0px;height:427.7px;background:linear-gradient(#eb0000,#e90000,#e70000,#e50000,#e30000,#e10000,#df0000,#dd0000,#da0000,#d80000,#d60000,#d30000,#d10000,#cf0000,#cd0000,#ca0000,#c70000,#c50000,#c20000,#bf0000,#bc0000,#b90000,#b60000,#b40000,#b10000,#ae0000,#ab0000,#a80000,#a50000,#a20000,#9f0000,#9c0000,#990000,#960000,#930000,#900000,#8d0000,#890000,#860000,#830000,#800000,#7d0000,#7a0000,#760000,#730000,#700000,#6d0000,#6a0000,#660000,#630000,#5f0000,#5c0000,#580000,#540000,#500000,#4d0000,#490000,#450000,#400000,#3c0000,#380000,#340000,#300000,#2d0000,#2a0000,#260000,#230000,#200000,#1d0000,#190000,#160000,#130000,#0f0000)"></i>
<i style="left:509.0px;width:3.5px;top:36.0px;height:427.7px;background:linear-gradient(#e90000,#e70000,#e60000,#e40000,#e20000,#e00000,#de0000,#db0000,#d90000,#d70000,#d40000,#d20000,#d00000,#cd0000,#cb0000,#c90000,#c60000,#c30000,#c00000,#bd0000,#bb0000,#b80000,#b50000,#b20000,#af0000,#ad0000,#aa0000,#a70000,#a40000,#a10000,#9e0000,#9b0000,#980000,#950000,#920000,#8f0000,#8b0000,#880000,#850000,#820000,#7f0000,#7c0000,#790000,#750000,#720000,#6f0000,#6c0000,#690000,#650000,#620000,#5f0000,#5b0000,#570000,#530000,#500000,#4c0000,#480000,#440000,#400000,#3b0000,#370000,#330000,#300000,#2d0000,#290000,#260000,#230000,#200000,#1c0000,#190000,#160000,#130000,#0f0000)"></i>
<i style="left:512.0px;width:3.5px;top:36.0px;height:427.7px;background:linear-gradient(#e80000,#e60000,#e40000,#e30000,#e10000,#de0000,#dc0000,#da0000,#d70000,#d50000,#d30000,#d10000,#ce0000,#cc0000,#ca0000,#c70000,#c40000,#c10000,#bf0000,#bc0000,#b90000,#b60000,#b40000,#b10000,#ae0000,#ab0000,#a80000,#a50000,#a20000,#a00000,#9d0000,#9a0000,#970000,#940000,#900000,#8d0000,#8a0000,#870000,#840000,#810000,#7e0000,#7b0000,#780000,#750000,#710000,#6e0000,#6b0000,#680000,#650000,#610000,#5e0000,#5a0000,#560000,#530000,#4f0000,#4b0000,#480000,#430000,#3f0000,#3b0000,#370000,#330000,#300000,#2c0000,#290000,#260000,#230000,#1f0000,#1c0000,#190000,#160000,#130000,#0f0000)"></i>
<i style="left:515.0px;width:3.5px;top:36.0px;height:427.7px;background:linear-gradient(#e70000,#e50000,#e30000,#e10000,#df0000,#dd0000,#db0000,#d80000,#d60000,#d40000,#d20000,#cf0000,#cd0000,#cb0000,#c80000,#c50000,#c30000,#c00000,#bd0000,#ba0000,#b80000,#b50000,#b20000,#b00000,#ad0000,#aa0000,#a70000,#a40000,#a10000,#9e0000,#9b0000,#980000,#950000,#920000,#8f0000,#8c0000,#890000,#860000,#830000,#800000,#7d0000,#7a0000,#770000,#740000,#700000,#6d0000,#6a0000,#670000,#640000,#600000,#5d0000,#590000,#560000,#520000,#4e0000,#4b0000,#470000,#430000,#3e0000,#3a0000,#360000,#320000,#2f0000,#2c0000,#290000,#260000,#220000,#1f0000,#1c0000,#190000,#160000,#120000,#0f0000)"></i>
<i style="left:518.0px;width:3.5px;top:36.0px;height:427.7px;background:linear-gradient(#e50000,#e40000,#e20000,#e00000,#de0000,#db0000,#d90000,#d70000,#d50000,#d20000,#d00000,#ce0000,#cc0000,#c90000,#c70000,#c40000,#c10000,#be0000,#bc0000,#b90000,#b60000,#b40000,#b10000,#ae0000,#ab0000,#a90000,#a60000,#a30000,#a00000,#9d0000,#9a0000,#970000,#940000,#910000,#8e0000,#8b0000,#880000,#850000,#820000,#7f0000,#7c0000,#790000,#760000,#730000,#700000,#6c0000,#690000,#660000,#630000,#600000,#5c0000,#580000,#550000,#510000,#4e0000,#4a0000,#460000,#420000,#3e0000,#3a0000,#350000,#320000,#2f0000,#2c0000,#290000,#250000,#220000,#1f0000,#1c0000,#190000,#160000,#120000,#0f0000)"></i>
<i style="left:521.0px;width:3.5px;top:36.0px;height:427.7px;background:linear-gradient(#e40000,#e30000,#e10000,#de0000,#dc0000,#da0000,#d80000,#d50000,#d30000,#d10000,#cf0000,#cd0000,#ca0000,#c80000,#c50000,#c20000,#c00000,#bd0000,#ba0000,#b80000,#b50000,#b20000,#b00000,#ad0000,#aa0000,#a70000,#a40000,#a20000,#9f0000,#9c0000,#990000,#960000,#930000,#900000,#8d0000,#8a0000,#870000,#840000,#810000,#7e0000,#7b0000,#780000,#750000,#720000,#6f0000,#6c0000,#690000,#650000,#620000,#5f0000,#5b0000,#580000,#540000,#510000,#4d0000,#4a0000,#450000,#410000,#3d0000,#390000,#350000,#320000,#2f0000,#2b0000,#280000,#250000,#220000,#1f0000,#1c0000,#190000,#150000,#120000,#0f0000)"></i>
<i style="left:524.0px;width:3.5px;top:36.0px;height:427.7px;background:linear-gradient(#e30000,#e10000,#df0000,#dd0000,#db0000,#d80000,#d60000,#d40000,#d20000,#d00000,#ce0000,#cb0000,#c90000,#c60000,#c40000,#c10000,#be0000,#bc0000,#b90000,#b60000,#b40000,#b10000,#ae0000,#ac0000,#a90000,#a60000,#a30000,#a00000,#9d0000,#9b0000,#980000,#950000,#920000,#8f0000,#8c0000,#890000,#860000,#830000,#800000,#7d0000,#7a0000,#770000,#740000,#710000,#6e0000,#6b0000,#680000,#650000,#620000,#5e0000,#5b0000,#570000,#530000,#500000,#4c0000,#490000,#450000,#410000,#3d0000,#380000,#340000,#310000,#2e0000,#2b0000,#280000,#250000,#220000,#1f0000,#1c0000,#190000,#150000,#120000,#0f0000)"></i>
<i style="left:527.0px;width:3.5px;top:36.0px;height:427.7px;background:linear-gradient(#e20000,#e00000,#de0000,#db0000,#d90000,#d70000,#d50000,#d30000,#d10000,#ce0000,#cc0000,#ca0000,#c70000,#c50000,#c20000,#bf0000,#bd0000,#ba0000,#b80000,#b50000,#b20000,#b00000,#ad0000,#aa0000,#a70000,#a50000,#a20000,#9f0000,#9c0000,#990000,#970000,#940000,#910000,#8e0000,#8b0000,#880000,#850000,#820000,#7f0000,#7c0000,#790000,#760000,#730000,#700000,#6d0000,#6a0000,#670000,#640000,#610000,#5d0000,#5a0000,#560000,#530000,#4f0000,#4c0000,#480000,#440000,#400000,#3c0000,#380000,#340000,#310000,#2e0000,#2b0000,#280000,#250000,#220000,#1f0000,#1b0000,#180000,#150000,#120000,#0f0000)"></i>
<i style="left:530.0px;width:3.5px;top:36.0px;height:427.7px;background:linear-gradient(#e00000,#de0000,#dc0000,#da0000,#d80000,#d60000,#d40000,#d10000,#cf0000,#cd0000,#cb0000,#c80000,#c60000,#c30000,#c10000,#be0000,#bb0000,#b90000,#b60000,#b40000,#b10000,#ae0000,#ac0000,#a90000,#a60000,#a30000,#a10000,#9e0000,#9b0000,#980000,#950000,#920000,#900000,#8d0000,#8a0000,#870000,#840000,#810000,#7e0000,#7b0000,#780000,#750000,#720000,#6f0000,#6c0000,#690000,#660000,#630000,#600000,#5c0000,#590000,#560000,#520000,#4f0000,#4b0000,#470000,#430000,#3f0000,#3b0000,#370000,#340000,#310000,#2e0000,#2b0000,#280000,#240000,#210000,#1e0000,#1b0000,#180000,#150000,#120000,#0f0000)"></i>
<i style="left:533.0px;width:3.5px;top:36.0px;height:427.7px;background:linear-gradient(#df0000,#dd0000,#db0000,#d90000,#d60000,#d40000,#d20000,#d00000,#ce0000,#cc0000,#ca0000,#c70000,#c40000,#c20000,#bf0000,#bd0000,#ba0000,#b70000,#b50000,#b20000,#b00000,#ad0000,#aa0000,#a80000,#a50000,#a20000,#9f0000,#9d0000,#9a0000,#970000,#940000,#910000,#8e0000,#8c0000,#890000,#860000,#830000,#800000,#7d0000,#7a0000,#770000,#740000,#710000,#6e0000,#6b0000,#680000,#650000,#630000,#5f0000,#5c0000,#580000,#550000,#510000,#4e0000,#4b0000,#470000,#430000,#3f0000,#3b0000,#370000,#330000,#300000,#2d0000,#2a0000,#270000,#240000,#210000,#1e0000,#1b0000,#180000,#150000,#120000,#0f0000)"></i>
<i style="left:536.0px;width:3.5px;top:36.0px;height:427.7px;background:linear-gradient(#de0000,#db0000,#d90000,#d70000,#d50000,#d30000,#d10000,#cf0000,#cd0000,#cb0000,#c80000,#c50000,#c30000,#c00000,#be0000,#bb0000,#b90000,#b60000,#b40000,#b10000,#ae0000,#ac0000,#a90000,#a60000,#a40000,#a10000,#9e0000,#9c0000,#990000,#960000,#930000,#900000,#8d0000,#8a0000,#880000,#850000,#820000,#7f0000,#7c0000,#790000,#760000,#730000,#710000,#6e0000,#6b0000,#680000,#650000,#620000,#5e0000,#5b0000,#580000,#540000,#510000,#4d0000,#4a0000,#460000,#420000,#3e0000,#3a0000,#360000,#330000,#300000,#2d0000,#2a0000,#270000,#240000,#210000,#1e0000,#1b0000,#180000,#150000,#120000,#0f0000)"></i>
<i style="left:539.0px;width:3.5px;top:36.0px;height:427.7px;background:linear-gradient(#dc0000,#da0000,#d80000,#d60000,#d40000,#d20000,#d00000,#ce0000,#cb0000,#c90000,#c70000,#c40000,#c10000,#bf0000,#bc0000,#ba0000,#b70000,#b50000,#b20000,#b00000,#ad0000,#aa0000,#a80000,#a50000,#a20000,#a00000,#9d0000,#9a0000,#980000,#950000,#920000,#8f0000,#8c0000,#890000,#870000,#840000,#810000,#7e0000,#7b0000,#780000,#750000,#730000,#700000,#6d0000,#6a0000,#670000,#640000,#610000,#5e0000,#5a0000,#570000,#530000,#500000,#4d0000,#490000,#460000,#420000,#3e0000,#3a0000,#360000,#330000,#300000,#2d0000,#2a0000,#270000,#240000,#210000,#1e0000,#1b0000,#180000,#150000,#120000,#0f0000)"></i>
<i style="left:542.0px;width:3.5px;top:36.0px;height:427.7px;background:linear-gradient(#db0000,#d90000,#d70000,#d50000,#d20000,#d00000,#ce0000,#cc0000,#ca0000,#c80000,#c50000,#c30000,#c00000,#be0000,#bb0000,#b90000,#b60000,#b40000,#b10000,#ae0000,#ac0000,#a90000,#a70000,#a40000,#a10000,#9f0000,#9c0000,#990000,#960000,#940000,#910000,#8e0000,#8b0000,#880000,#860000,#830000,#800000,#7d0000,#7a0000,#780000,#750000,#720000,#6f0000,#6c0000,#690000,#660000,#630000,#600000,#5d0000,#590000,#560000,#530000,#4f0000,#4c0000,#490000,#450000,#410000,#3d0000,#390000,#350000,#320000,#2f0000,#2c0000,#290000,#270000,#240000,#210000,#1e0000,#1b0000,#180000,#150000,#120000,#0f0000)"></i>
<i style="left:545.0px;width:3.5px;top:36.0px;height:427.7px;background:linear-gradient(#d90000,#d70000,#d50000,#d30000,#d10000,#cf0000,#cd0000,#cb0000,#c90000,#c60000,#c40000,#c10000,#bf0000,#bc0000,#ba0000,#b70000,#b50000,#b20000,#b00000,#ad0000,#ab0000,#a80000,#a50000,#a30000,#a00000,#9d0000,#9b0000,#980000,#950000,#930000,#900000,#8d0000,#8a0000,#870000,#850000,#820000,#7f0000,#7c0000,#790000,#770000,#740000,#710000,#6e0000,#6b0000,#680000,#650000,#630000,#5f0000,#5c0000,#590000,#550000,#520000,#4f0000,#4c0000,#480000,#440000,#400000,#3d0000,#390000,#350000,#320000,#2f0000,#2c0000,#290000,#260000,#230000,#200000,#1e0000,#1b0000,#180000,#150000,#120000,#0f0000)"></i>
<i style="left:133.5px;width:23.2px;top:450.3px;height:15px;background:#fff"></i>
</div>
<svg width="1578" height="566" viewBox="0 0 1578 566">
<rect x="114.60" y="34.80" width="434.70" height="435.20" fill="none" stroke="#000" stroke-width="2.60"/>
<line x1="158.07" y1="470.00" x2="158.07" y2="460.00" stroke="#000" stroke-width="2.60" />
<line x1="158.07" y1="34.80" x2="158.07" y2="44.80" stroke="#000" stroke-width="2.60" />
<line x1="201.54" y1="470.00" x2="201.54" y2="460.00" stroke="#000" stroke-width="2.60" />
<line x1="201.54" y1="34.80" x2="201.54" y2="44.80" stroke="#000" stroke-width="2.60" />
<line x1="245.01" y1="470.00" x2="245.01" y2="460.00" stroke="#000" stroke-width="2.60" />
<line x1="245.01" y1="34.80" x2="245.01" y2="44.80" stroke="#000" stroke-width="2.60" />
<line x1="288.48" y1="470.00" x2="288.48" y2="460.00" stroke="#000" stroke-width="2.60" />
<line x1="288.48" y1="34.80" x2="288.48" y2="44.80" stroke="#000" stroke-width="2.60" />
<line x1="331.95" y1="470.00" x2="331.95" y2="451.00" stroke="#000" stroke-width="2.60" />
<line x1="331.95" y1="34.80" x2="331.95" y2="44.80" stroke="#000" stroke-width="2.60" />
<line x1="375.42" y1="470.00" x2="375.42" y2="460.00" stroke="#000" stroke-width="2.60" />
<line x1="375.42" y1="34.80" x2="375.42" y2="44.80" stroke="#000" stroke-width="2.60" />
<line x1="418.89" y1="470.00" x2="418.89" y2="460.00" stroke="#000" stroke-width="2.60" />
<line x1="418.89" y1="34.80" x2="418.89" y2="44.80" stroke="#000" stroke-width="2.60" />
<line x1="462.36" y1="470.00" x2="462.36" y2="460.00" stroke="#000" stroke-width="2.60" />
<line x1="462.36" y1="34.80" x2="462.36" y2="44.80" stroke="#000" stroke-width="2.60" />
<line x1="505.83" y1="470.00" x2="505.83" y2="460.00" stroke="#000" stroke-width="2.60" />
<line x1="505.83" y1="34.80" x2="505.83" y2="44.80" stroke="#000" stroke-width="2.60" />
<line x1="114.60" y1="440.99" x2="124.60" y2="440.99" stroke="#000" stroke-width="2.60" />
<line x1="549.30" y1="440.99" x2="539.30" y2="440.99" stroke="#000" stroke-width="2.60" />
<line x1="114.60" y1="411.97" x2="124.60" y2="411.97" stroke="#000" stroke-width="2.60" />
<line x1="549.30" y1="411.97" x2="539.30" y2="411.97" stroke="#000" stroke-width="2.60" />
<line x1="114.60" y1="382.96" x2="124.60" y2="382.96" stroke="#000" stroke-width="2.60" />
<line x1="549.30" y1="382.96" x2="539.30" y2="382.96" stroke="#000" stroke-width="2.60" />
<line x1="114.60" y1="353.95" x2="124.60" y2="353.95" stroke="#000" stroke-width="2.60" />
<line x1="549.30" y1="353.95" x2="539.30" y2="353.95" stroke="#000" stroke-width="2.60" />
<line x1="114.60" y1="324.93" x2="133.60" y2="324.93" stroke="#000" stroke-width="2.60" />
<line x1="549.30" y1="324.93" x2="530.30" y2="324.93" stroke="#000" stroke-width="2.60" />
<line x1="114.60" y1="295.92" x2="124.60" y2="295.92" stroke="#000" stroke-width="2.60" />
<line x1="549.30" y1="295.92" x2="539.30" y2="295.92" stroke="#000" stroke-width="2.60" />
<line x1="114.60" y1="266.91" x2="124.60" y2="266.91" stroke="#000" stroke-width="2.60" />
<line x1="549.30" y1="266.91" x2="539.30" y2="266.91" stroke="#000" stroke-width="2.60" />
<line x1="114.60" y1="237.89" x2="124.60" y2="237.89" stroke="#000" stroke-width="2.60" />
<line x1="549.30" y1="237.89" x2="539.30" y2="237.89" stroke="#000" stroke-width="2.60" />
<line x1="114.60" y1="208.88" x2="124.60" y2="208.88" stroke="#000" stroke-width="2.60" />
<line x1="549.30" y1="208.88" x2="539.30" y2="208.88" stroke="#000" stroke-width="2.60" />
<line x1="114.60" y1="179.87" x2="133.60" y2="179.87" stroke="#000" stroke-width="2.60" />
<line x1="549.30" y1="179.87" x2="530.30" y2="179.87" stroke="#000" stroke-width="2.60" />
<line x1="114.60" y1="150.85" x2="124.60" y2="150.85" stroke="#000" stroke-width="2.60" />
<line x1="549.30" y1="150.85" x2="539.30" y2="150.85" stroke="#000" stroke-width="2.60" />
<line x1="114.60" y1="121.84" x2="124.60" y2="121.84" stroke="#000" stroke-width="2.60" />
<line x1="549.30" y1="121.84" x2="539.30" y2="121.84" stroke="#000" stroke-width="2.60" />
<line x1="114.60" y1="92.83" x2="124.60" y2="92.83" stroke="#000" stroke-width="2.60" />
<line x1="549.30" y1="92.83" x2="539.30" y2="92.83" stroke="#000" stroke-width="2.60" />
<line x1="114.60" y1="63.81" x2="124.60" y2="63.81" stroke="#000" stroke-width="2.60" />
<line x1="549.30" y1="63.81" x2="539.30" y2="63.81" stroke="#000" stroke-width="2.60" />
<clipPath id="cpa"><rect x="113.3" y="33.5" width="437" height="438"/></clipPath>
<line x1="112.20" y1="464.00" x2="351.50" y2="32.40" stroke="#1cc3cb" stroke-width="4.00" clip-path="url(#cpa)"/>
<polyline points="338.7,35.7 333.0,45.5" fill="none" stroke="#000" stroke-width="3.6" stroke-linejoin="round"/>
<polyline points="330.2,49.8 325.9,61.8" fill="none" stroke="#000" stroke-width="3.6" stroke-linejoin="round"/>
<polyline points="323.1,66.7 318.2,77.3" fill="none" stroke="#000" stroke-width="3.6" stroke-linejoin="round"/>
<polyline points="316.5,82.3 314.0,88.0 311.1,92.9" fill="none" stroke="#000" stroke-width="3.6" stroke-linejoin="round"/>
<polyline points="309.0,98.6 305.4,109.2" fill="none" stroke="#000" stroke-width="3.6" stroke-linejoin="round"/>
<polyline points="301.5,113.5 296.5,124.8" fill="none" stroke="#000" stroke-width="3.6" stroke-linejoin="round"/>
<polyline points="293.7,129.1 290.2,132.6 288.1,140.4" fill="none" stroke="#000" stroke-width="3.6" stroke-linejoin="round"/>
<polyline points="285.9,146.0 284.5,150.3 281.0,151.0 277.5,152.1" fill="none" stroke="#000" stroke-width="3.6" stroke-linejoin="round"/>
<polyline points="275.3,158.8 271.8,169.4" fill="none" stroke="#000" stroke-width="3.6" stroke-linejoin="round"/>
<polyline points="269.0,174.3 263.3,184.9" fill="none" stroke="#000" stroke-width="3.6" stroke-linejoin="round"/>
<polyline points="261.5,189.5 256.5,201.0" fill="none" stroke="#000" stroke-width="3.6" stroke-linejoin="round"/>
<polyline points="255.5,207.0 251.6,218.3" fill="none" stroke="#000" stroke-width="3.6" stroke-linejoin="round"/>
<polyline points="248.8,223.9 241.7,234.5" fill="none" stroke="#000" stroke-width="3.6" stroke-linejoin="round"/>
<polyline points="239.6,239.5 235.3,250.8" fill="none" stroke="#000" stroke-width="3.6" stroke-linejoin="round"/>
<polyline points="233.2,255.7 226.4,265.7" fill="none" stroke="#000" stroke-width="3.6" stroke-linejoin="round"/>
<polyline points="215.1,285.4 206.6,295.3" fill="none" stroke="#000" stroke-width="3.6" stroke-linejoin="round"/>
<polyline points="203.8,300.3 198.9,310.9" fill="none" stroke="#000" stroke-width="3.6" stroke-linejoin="round"/>
<polyline points="193.9,316.5 187.6,326.4" fill="none" stroke="#000" stroke-width="3.6" stroke-linejoin="round"/>
<polyline points="185.4,330.7 179.0,340.0" fill="none" stroke="#000" stroke-width="3.6" stroke-linejoin="round"/>
<polyline points="177.3,346.3 174.5,353.3" fill="none" stroke="#000" stroke-width="3.6" stroke-linejoin="round"/>
<polyline points="170.2,361.8 165.3,372.4" fill="none" stroke="#000" stroke-width="3.6" stroke-linejoin="round"/>
<polyline points="159.6,371.0 154.0,382.3" fill="none" stroke="#000" stroke-width="3.6" stroke-linejoin="round"/>
<polyline points="146.0,399.5 142.7,402.1 139.5,405.0 136.3,406.0" fill="none" stroke="#000" stroke-width="3.6" stroke-linejoin="round"/>
<circle cx="118.7" cy="440.2" r="7.2" fill="#1cc3cb" stroke="#000" stroke-width="1.4"/>
<circle cx="132.9" cy="436.0" r="7.2" fill="#1cc3cb" stroke="#000" stroke-width="1.4"/>
<circle cx="140.3" cy="421.8" r="7.2" fill="#1cc3cb" stroke="#000" stroke-width="1.4"/>
<circle cx="153.0" cy="393.6" r="7.2" fill="#1cc3cb" stroke="#000" stroke-width="1.4"/>
<circle cx="166.8" cy="349.5" r="7.2" fill="#1cc3cb" stroke="#000" stroke-width="1.4"/>
<circle cx="200.9" cy="323.4" r="7.2" fill="#1cc3cb" stroke="#000" stroke-width="1.4"/>
<circle cx="218.6" cy="271.8" r="7.2" fill="#1cc3cb" stroke="#000" stroke-width="1.4"/>
<circle cx="253.6" cy="203.3" r="7.2" fill="#1cc3cb" stroke="#000" stroke-width="1.4"/>
<rect x="155.7" y="94.3" width="73.1" height="39.2" fill="#fff"/>
<rect x="378.8" y="325.9" width="91.9" height="40.7" fill="#fff"/>
<defs><linearGradient id="cb" gradientUnits="userSpaceOnUse" x1="0" y1="466.1" x2="0" y2="184.1"><stop offset="0" stop-color="#000"/><stop offset="0.5" stop-color="#f00"/><stop offset="1" stop-color="#ff0"/></linearGradient></defs>
<rect x="572.5" y="181.8" width="22.8" height="286.6" fill="url(#cb)"/>
<rect x="572.5" y="181.8" width="22.8" height="286.6" fill="none" stroke="#000" stroke-width="2.60"/>
<line x1="595.30" y1="466.10" x2="609.10" y2="466.10" stroke="#000" stroke-width="2.60" />
<line x1="595.30" y1="447.30" x2="602.80" y2="447.30" stroke="#000" stroke-width="2.60" />
<line x1="595.30" y1="428.50" x2="602.80" y2="428.50" stroke="#000" stroke-width="2.60" />
<line x1="595.30" y1="409.70" x2="602.80" y2="409.70" stroke="#000" stroke-width="2.60" />
<line x1="595.30" y1="390.90" x2="602.80" y2="390.90" stroke="#000" stroke-width="2.60" />
<line x1="595.30" y1="372.10" x2="609.10" y2="372.10" stroke="#000" stroke-width="2.60" />
<line x1="595.30" y1="353.30" x2="602.80" y2="353.30" stroke="#000" stroke-width="2.60" />
<line x1="595.30" y1="334.50" x2="602.80" y2="334.50" stroke="#000" stroke-width="2.60" />
<line x1="595.30" y1="315.70" x2="602.80" y2="315.70" stroke="#000" stroke-width="2.60" />
<line x1="595.30" y1="296.90" x2="602.80" y2="296.90" stroke="#000" stroke-width="2.60" />
<line x1="595.30" y1="278.10" x2="609.10" y2="278.10" stroke="#000" stroke-width="2.60" />
<line x1="595.30" y1="259.30" x2="602.80" y2="259.30" stroke="#000" stroke-width="2.60" />
<line x1="595.30" y1="240.50" x2="602.80" y2="240.50" stroke="#000" stroke-width="2.60" />
<line x1="595.30" y1="221.70" x2="602.80" y2="221.70" stroke="#000" stroke-width="2.60" />
<line x1="595.30" y1="202.90" x2="602.80" y2="202.90" stroke="#000" stroke-width="2.60" />
<line x1="595.30" y1="184.10" x2="609.10" y2="184.10" stroke="#000" stroke-width="2.60" />
<rect x="1042.50" y="34.80" width="434.80" height="435.20" fill="none" stroke="#000" stroke-width="2.60"/>
<line x1="1071.49" y1="470.00" x2="1071.49" y2="460.00" stroke="#000" stroke-width="2.60" />
<line x1="1071.49" y1="34.80" x2="1071.49" y2="44.80" stroke="#000" stroke-width="2.60" />
<line x1="1100.47" y1="470.00" x2="1100.47" y2="460.00" stroke="#000" stroke-width="2.60" />
<line x1="1100.47" y1="34.80" x2="1100.47" y2="44.80" stroke="#000" stroke-width="2.60" />
<line x1="1129.46" y1="470.00" x2="1129.46" y2="460.00" stroke="#000" stroke-width="2.60" />
<line x1="1129.46" y1="34.80" x2="1129.46" y2="44.80" stroke="#000" stroke-width="2.60" />
<line x1="1158.45" y1="470.00" x2="1158.45" y2="460.00" stroke="#000" stroke-width="2.60" />
<line x1="1158.45" y1="34.80" x2="1158.45" y2="44.80" stroke="#000" stroke-width="2.60" />
<line x1="1187.43" y1="470.00" x2="1187.43" y2="451.00" stroke="#000" stroke-width="2.60" />
<line x1="1187.43" y1="34.80" x2="1187.43" y2="53.80" stroke="#000" stroke-width="2.60" />
<line x1="1216.42" y1="470.00" x2="1216.42" y2="460.00" stroke="#000" stroke-width="2.60" />
<line x1="1216.42" y1="34.80" x2="1216.42" y2="44.80" stroke="#000" stroke-width="2.60" />
<line x1="1245.41" y1="470.00" x2="1245.41" y2="460.00" stroke="#000" stroke-width="2.60" />
<line x1="1245.41" y1="34.80" x2="1245.41" y2="44.80" stroke="#000" stroke-width="2.60" />
<line x1="1274.39" y1="470.00" x2="1274.39" y2="460.00" stroke="#000" stroke-width="2.60" />
<line x1="1274.39" y1="34.80" x2="1274.39" y2="44.80" stroke="#000" stroke-width="2.60" />
<line x1="1303.38" y1="470.00" x2="1303.38" y2="460.00" stroke="#000" stroke-width="2.60" />
<line x1="1303.38" y1="34.80" x2="1303.38" y2="44.80" stroke="#000" stroke-width="2.60" />
<line x1="1332.37" y1="470.00" x2="1332.37" y2="451.00" stroke="#000" stroke-width="2.60" />
<line x1="1332.37" y1="34.80" x2="1332.37" y2="53.80" stroke="#000" stroke-width="2.60" />
<line x1="1361.35" y1="470.00" x2="1361.35" y2="460.00" stroke="#000" stroke-width="2.60" />
<line x1="1361.35" y1="34.80" x2="1361.35" y2="44.80" stroke="#000" stroke-width="2.60" />
<line x1="1390.34" y1="470.00" x2="1390.34" y2="460.00" stroke="#000" stroke-width="2.60" />
<line x1="1390.34" y1="34.80" x2="1390.34" y2="44.80" stroke="#000" stroke-width="2.60" />
<line x1="1419.33" y1="470.00" x2="1419.33" y2="460.00" stroke="#000" stroke-width="2.60" />
<line x1="1419.33" y1="34.80" x2="1419.33" y2="44.80" stroke="#000" stroke-width="2.60" />
<line x1="1448.31" y1="470.00" x2="1448.31" y2="460.00" stroke="#000" stroke-width="2.60" />
<line x1="1448.31" y1="34.80" x2="1448.31" y2="44.80" stroke="#000" stroke-width="2.60" />
<line x1="1477.30" y1="434.05" x2="1467.30" y2="434.05" stroke="#000" stroke-width="2.60" />
<line x1="1477.30" y1="398.00" x2="1467.30" y2="398.00" stroke="#000" stroke-width="2.60" />
<line x1="1477.30" y1="361.95" x2="1467.30" y2="361.95" stroke="#000" stroke-width="2.60" />
<line x1="1477.30" y1="325.90" x2="1467.30" y2="325.90" stroke="#000" stroke-width="2.60" />
<line x1="1477.30" y1="289.85" x2="1458.30" y2="289.85" stroke="#000" stroke-width="2.60" />
<line x1="1477.30" y1="253.80" x2="1467.30" y2="253.80" stroke="#000" stroke-width="2.60" />
<line x1="1477.30" y1="217.75" x2="1467.30" y2="217.75" stroke="#000" stroke-width="2.60" />
<line x1="1477.30" y1="181.70" x2="1467.30" y2="181.70" stroke="#000" stroke-width="2.60" />
<line x1="1477.30" y1="145.65" x2="1467.30" y2="145.65" stroke="#000" stroke-width="2.60" />
<line x1="1477.30" y1="109.60" x2="1458.30" y2="109.60" stroke="#000" stroke-width="2.60" />
<line x1="1477.30" y1="73.55" x2="1467.30" y2="73.55" stroke="#000" stroke-width="2.60" />
<line x1="1477.30" y1="37.50" x2="1467.30" y2="37.50" stroke="#000" stroke-width="2.60" />
<line x1="1042.50" y1="54.00" x2="1042.50" y2="450.80" stroke="#cc00cc" stroke-width="2.60" />
<line x1="1041.00" y1="417.05" x2="1052.50" y2="417.05" stroke="#cc00cc" stroke-width="2.60" />
<line x1="1041.00" y1="364.00" x2="1052.50" y2="364.00" stroke="#cc00cc" stroke-width="2.60" />
<line x1="1041.00" y1="310.95" x2="1052.50" y2="310.95" stroke="#cc00cc" stroke-width="2.60" />
<line x1="1041.00" y1="257.90" x2="1052.50" y2="257.90" stroke="#cc00cc" stroke-width="2.60" />
<line x1="1041.00" y1="204.85" x2="1061.50" y2="204.85" stroke="#cc00cc" stroke-width="2.60" />
<line x1="1041.00" y1="151.80" x2="1052.50" y2="151.80" stroke="#cc00cc" stroke-width="2.60" />
<line x1="1041.00" y1="98.75" x2="1052.50" y2="98.75" stroke="#cc00cc" stroke-width="2.60" />
<line x1="1041.00" y1="45.70" x2="1052.50" y2="45.70" stroke="#cc00cc" stroke-width="2.60" />
<line x1="947.10" y1="34.60" x2="947.10" y2="471.30" stroke="#1cc3cb" stroke-width="2.60" />
<line x1="945.80" y1="470.10" x2="966.10" y2="470.10" stroke="#1cc3cb" stroke-width="2.60" />
<line x1="945.80" y1="430.90" x2="957.10" y2="430.90" stroke="#1cc3cb" stroke-width="2.60" />
<line x1="945.80" y1="391.70" x2="957.10" y2="391.70" stroke="#1cc3cb" stroke-width="2.60" />
<line x1="945.80" y1="352.50" x2="957.10" y2="352.50" stroke="#1cc3cb" stroke-width="2.60" />
<line x1="945.80" y1="313.30" x2="957.10" y2="313.30" stroke="#1cc3cb" stroke-width="2.60" />
<line x1="945.80" y1="274.10" x2="966.10" y2="274.10" stroke="#1cc3cb" stroke-width="2.60" />
<line x1="945.80" y1="234.90" x2="957.10" y2="234.90" stroke="#1cc3cb" stroke-width="2.60" />
<line x1="945.80" y1="195.70" x2="957.10" y2="195.70" stroke="#1cc3cb" stroke-width="2.60" />
<line x1="945.80" y1="156.50" x2="957.10" y2="156.50" stroke="#1cc3cb" stroke-width="2.60" />
<line x1="945.80" y1="117.30" x2="957.10" y2="117.30" stroke="#1cc3cb" stroke-width="2.60" />
<line x1="945.80" y1="78.10" x2="966.10" y2="78.10" stroke="#1cc3cb" stroke-width="2.60" />
<line x1="945.80" y1="38.90" x2="957.10" y2="38.90" stroke="#1cc3cb" stroke-width="2.60" />
<line x1="862.60" y1="34.40" x2="862.60" y2="471.30" stroke="#9a9a14" stroke-width="2.60" />
<line x1="861.30" y1="470.10" x2="881.60" y2="470.10" stroke="#9a9a14" stroke-width="2.60" />
<line x1="861.30" y1="398.07" x2="872.60" y2="398.07" stroke="#9a9a14" stroke-width="2.60" />
<line x1="861.30" y1="326.04" x2="872.60" y2="326.04" stroke="#9a9a14" stroke-width="2.60" />
<line x1="861.30" y1="254.01" x2="872.60" y2="254.01" stroke="#9a9a14" stroke-width="2.60" />
<line x1="861.30" y1="181.98" x2="872.60" y2="181.98" stroke="#9a9a14" stroke-width="2.60" />
<line x1="861.30" y1="109.95" x2="881.60" y2="109.95" stroke="#9a9a14" stroke-width="2.60" />
<line x1="861.30" y1="37.92" x2="872.60" y2="37.92" stroke="#9a9a14" stroke-width="2.60" />
<path d="M1059.5,35.0 C1059.6,35.8 1059.7,33.3 1060.2,40.0 C1060.7,46.7 1061.7,65.6 1062.7,75.3 C1063.7,85.0 1065.0,88.6 1066.2,98.3 C1067.4,108.0 1068.8,124.3 1069.8,133.6 C1070.8,142.9 1070.2,143.6 1072.4,154.0 C1074.6,164.4 1080.2,185.3 1083.0,196.3 C1085.8,207.3 1086.4,211.1 1089.2,220.0 C1092.0,228.9 1094.9,240.7 1100.0,250.0 C1105.1,259.3 1113.5,268.6 1120.0,276.0 C1126.5,283.4 1132.7,288.4 1139.0,294.2 C1145.3,299.9 1150.0,305.4 1158.0,310.5 C1166.0,315.6 1177.6,320.6 1187.3,324.5 C1197.0,328.4 1206.6,331.0 1216.3,333.8 C1226.0,336.6 1235.7,339.0 1245.4,341.1 C1255.1,343.2 1264.7,344.8 1274.4,346.4 C1284.1,348.0 1293.9,349.5 1303.5,350.8 C1313.1,352.1 1322.4,352.9 1332.0,354.0 C1341.6,355.1 1351.6,356.3 1361.3,357.2 C1371.0,358.1 1380.6,358.8 1390.3,359.4 C1400.0,360.0 1405.0,359.8 1419.4,361.1 C1433.9,362.4 1467.4,366.0 1477.0,367.0" fill="none" stroke="#8c8c8c" stroke-width="4"/>
<path d="M1065.5,102.2 l7.6,7.6 l-7.6,7.6 l-7.6,-7.6 z" fill="#000"/>
<path d="M1071.5,118.1 l7.6,7.6 l-7.6,7.6 l-7.6,-7.6 z" fill="#000"/>
<path d="M1085.8,201.4 l7.6,7.6 l-7.6,7.6 l-7.6,-7.6 z" fill="#000"/>
<path d="M1100.2,242.7 l7.6,7.6 l-7.6,7.6 l-7.6,-7.6 z" fill="#000"/>
<path d="M1129.1,280.4 l7.6,7.6 l-7.6,7.6 l-7.6,-7.6 z" fill="#000"/>
<path d="M1158.2,302.9 l7.6,7.6 l-7.6,7.6 l-7.6,-7.6 z" fill="#000"/>
<path d="M1187.3,316.9 l7.6,7.6 l-7.6,7.6 l-7.6,-7.6 z" fill="#000"/>
<path d="M1216.3,326.2 l7.6,7.6 l-7.6,7.6 l-7.6,-7.6 z" fill="#000"/>
<path d="M1245.4,333.5 l7.6,7.6 l-7.6,7.6 l-7.6,-7.6 z" fill="#000"/>
<path d="M1274.4,338.8 l7.6,7.6 l-7.6,7.6 l-7.6,-7.6 z" fill="#000"/>
<path d="M1303.4,343.3 l7.6,7.6 l-7.6,7.6 l-7.6,-7.6 z" fill="#000"/>
<path d="M1332.0,346.4 l7.6,7.6 l-7.6,7.6 l-7.6,-7.6 z" fill="#000"/>
<path d="M1361.3,349.6 l7.6,7.6 l-7.6,7.6 l-7.6,-7.6 z" fill="#000"/>
<path d="M1390.3,351.8 l7.6,7.6 l-7.6,7.6 l-7.6,-7.6 z" fill="#000"/>
<path d="M1419.4,353.5 l7.6,7.6 l-7.6,7.6 l-7.6,-7.6 z" fill="#000"/>
<rect x="1063.7" y="136.8" width="15.2" height="15.2" fill="#cc00cc" stroke="#000" stroke-width="1.3"/>
<rect x="1078.2" y="199.3" width="15.2" height="15.2" fill="#cc00cc" stroke="#000" stroke-width="1.3"/>
<rect x="1121.5" y="274.5" width="15.2" height="15.2" fill="#cc00cc" stroke="#000" stroke-width="1.3"/>
<rect x="1324.4" y="346.2" width="15.2" height="15.2" fill="#cc00cc" stroke="#000" stroke-width="1.3"/>
<circle cx="1071.5" cy="69.2" r="7.5" fill="#d4d400" stroke="#000" stroke-width="1.3"/>
<circle cx="1085.5" cy="160.3" r="7.5" fill="#d4d400" stroke="#000" stroke-width="1.3"/>
<circle cx="1129.1" cy="263.0" r="7.5" fill="#d4d400" stroke="#000" stroke-width="1.3"/>
<circle cx="1332.0" cy="353.8" r="7.5" fill="#d4d400" stroke="#000" stroke-width="1.3"/>
<path d="M1071.3,197.0 l6.8,13.2 h-13.6 z" fill="#1cc3cb" stroke="#000" stroke-width="1.3" stroke-linejoin="miter"/>
<path d="M1085.6,238.7 l6.8,13.2 h-13.6 z" fill="#1cc3cb" stroke="#000" stroke-width="1.3" stroke-linejoin="miter"/>
<path d="M1129.1,291.7 l6.8,13.2 h-13.6 z" fill="#1cc3cb" stroke="#000" stroke-width="1.3" stroke-linejoin="miter"/>
<path d="M1332.0,346.2 l6.8,13.2 h-13.6 z" fill="#1cc3cb" stroke="#000" stroke-width="1.3" stroke-linejoin="miter"/>
<path d="M1278.0,83.6 l7.2,14.0 h-14.4 z" fill="#1cc3cb" stroke="#000" stroke-width="1.3" stroke-linejoin="miter"/>
<rect x="1270.0" y="124.8" width="16.0" height="16.0" fill="#cc00cc" stroke="#000" stroke-width="1.3"/>
<circle cx="1278.0" cy="172.9" r="8.0" fill="#d4d400" stroke="#000" stroke-width="1.3"/>
<text fill="#000" stroke="#000" stroke-width="0.25"><tspan x="55.20" y="46.10" font-size="33" >1.5</tspan></text>
<text fill="#000" stroke="#000" stroke-width="0.25"><tspan x="55.20" y="191.17" font-size="33" >1.0</tspan></text>
<text fill="#000" stroke="#000" stroke-width="0.25"><tspan x="55.20" y="336.23" font-size="33" >0.5</tspan></text>
<text fill="#000" stroke="#000" stroke-width="0.25"><tspan x="55.20" y="481.30" font-size="33" >0.0</tspan></text>
<text fill="#000" stroke="#000" stroke-width="0.25"><tspan x="104.55" y="509.30" font-size="33" >0</tspan></text>
<text fill="#000" stroke="#000" stroke-width="0.25"><tspan x="321.80" y="509.30" font-size="33" >5</tspan></text>
<text fill="#000" stroke="#000" stroke-width="0.25"><tspan x="531.00" y="509.30" font-size="33" >10</tspan></text>
<text fill="#000" stroke="#000" stroke-width="0.25"><tspan x="168.20" y="126.00" font-size="34.5" >QC</tspan></text>
<text fill="#000" stroke="#000" stroke-width="0.25"><tspan x="394.20" y="357.60" font-size="34.5" >QSL</tspan></text>
<text fill="#000" stroke="#000" stroke-width="0.25"><tspan x="269.20" y="556.40" font-size="35" ><tspan style="font-family:'Noto Serif CJK SC','Liberation Serif',serif;font-style:italic" stroke-width="0.2">μ</tspan></tspan><tspan x="292.80" y="564.60" font-size="24.4" >0</tspan><tspan x="308.40" y="556.40" font-size="33.2" ><tspan font-style="italic">H</tspan></tspan><tspan x="339.60" y="556.40" font-size="33.2" >(T)</tspan></text>
<text transform="translate(28.30,0) rotate(-90)" fill="#000" stroke="#000" stroke-width="0.25"><tspan x="-280.70" y="-0.00" font-size="33.2" ><tspan font-style="italic">T</tspan></tspan><tspan x="-252.40" y="-0.00" font-size="33.2" >(K)</tspan></text>
<text fill="#000" stroke="#000" stroke-width="0.25"><tspan x="-0.20" y="30.00" font-size="43" font-weight="bold" stroke-width="0" textLength="21.2" lengthAdjust="spacingAndGlyphs">a</tspan></text>
<text fill="#000" stroke="#000" stroke-width="0.25"><tspan x="736.50" y="30.00" font-size="43" font-weight="bold" stroke-width="0" textLength="25.3" lengthAdjust="spacingAndGlyphs">b</tspan></text>
<text fill="#000" stroke="#000" stroke-width="0.25"><tspan x="621.40" y="478.10" font-size="33" >0</tspan></text>
<text fill="#000" stroke="#000" stroke-width="0.25"><tspan x="620.40" y="384.10" font-size="33" >1</tspan></text>
<text fill="#000" stroke="#000" stroke-width="0.25"><tspan x="621.40" y="290.10" font-size="33" >2</tspan></text>
<text fill="#000" stroke="#000" stroke-width="0.25"><tspan x="621.40" y="196.10" font-size="33" >3</tspan></text>
<text transform="translate(665.90,0) rotate(90)" fill="#000" stroke="#000" stroke-width="0.25"><tspan x="136.90" y="-6.50" font-size="28.8" textLength="18.4" lengthAdjust="spacingAndGlyphs"><tspan style="font-family:'Noto Serif CJK SC','Liberation Serif',serif;font-style:italic" stroke-width="0.2">χ</tspan></tspan><tspan x="154.40" y="6.50" font-size="24.4" >c</tspan><tspan x="164.60" y="-0.00" font-size="33.2" ><tspan font-style="italic">T</tspan></tspan><tspan x="190.90" y="-12.70" font-size="24.4" >0.83</tspan><tspan x="246.40" y="-0.00" font-size="33.2" >(J</tspan><tspan x="283.50" y="-0.00" font-size="33.2" >K</tspan><tspan x="305.20" y="-12.70" font-size="24.4" >0.83</tspan><tspan x="361.50" y="-0.00" font-size="33.2" >T</tspan><tspan x="382.80" y="-12.70" font-size="24.4" >−2</tspan><tspan x="426.30" y="-0.00" font-size="33.2" >mol</tspan><tspan x="478.30" y="-12.70" font-size="24.4" >−1</tspan><tspan x="508.00" y="-0.00" font-size="33.2" >)</tspan></text>
<text fill="#000" stroke="#000" stroke-width="0.25"><tspan x="1033.20" y="510.00" font-size="33" >0</tspan></text>
<text fill="#000" stroke="#000" stroke-width="0.25"><tspan x="1178.13" y="510.00" font-size="33" >5</tspan></text>
<text fill="#000" stroke="#000" stroke-width="0.25"><tspan x="1313.67" y="510.00" font-size="33" >10</tspan></text>
<text fill="#000" stroke="#000" stroke-width="0.25"><tspan x="1459.30" y="510.00" font-size="33" >15</tspan></text>
<text fill="#000" stroke="#000" stroke-width="0.25"><tspan x="1490.30" y="480.70" font-size="33" >0</tspan></text>
<text fill="#000" stroke="#000" stroke-width="0.25"><tspan x="1490.30" y="300.45" font-size="33" >5</tspan></text>
<text fill="#000" stroke="#000" stroke-width="0.25"><tspan x="1490.00" y="120.20" font-size="33" >10</tspan></text>
<text fill="#cc00cc" stroke="#cc00cc" stroke-width="0.1"><tspan x="982.70" y="481.60" font-size="33" >0.0</tspan></text>
<text fill="#cc00cc" stroke="#cc00cc" stroke-width="0.1"><tspan x="982.70" y="216.35" font-size="33" >0.5</tspan></text>
<text fill="#1cc3cb" stroke="#1cc3cb" stroke-width="0.1"><tspan x="888.00" y="481.60" font-size="33" >0.0</tspan></text>
<text fill="#1cc3cb" stroke="#1cc3cb" stroke-width="0.1"><tspan x="888.00" y="285.60" font-size="33" >0.5</tspan></text>
<text fill="#1cc3cb" stroke="#1cc3cb" stroke-width="0.1"><tspan x="888.00" y="89.60" font-size="33" >1.0</tspan></text>
<text fill="#9a9a14" stroke="#9a9a14" stroke-width="0.1"><tspan x="802.50" y="482.10" font-size="33" >0.0</tspan></text>
<text fill="#9a9a14" stroke="#9a9a14" stroke-width="0.1"><tspan x="802.50" y="121.95" font-size="33" >0.5</tspan></text>
<text fill="#000" stroke="#000" stroke-width="0.25"><tspan x="1298.50" y="102.20" font-size="33" ><tspan font-style="italic">p</tspan> = 0.4</tspan></text>
<text fill="#000" stroke="#000" stroke-width="0.25"><tspan x="1298.50" y="139.60" font-size="33" ><tspan font-style="italic">p</tspan> = 0.5</tspan></text>
<text fill="#000" stroke="#000" stroke-width="0.25"><tspan x="1298.50" y="176.80" font-size="33" ><tspan font-style="italic">p</tspan> = 0.6</tspan></text>
<text fill="#000" stroke="#000" stroke-width="0.25"><tspan x="1198.20" y="556.40" font-size="35" ><tspan style="font-family:'Noto Serif CJK SC','Liberation Serif',serif;font-style:italic" stroke-width="0.2">μ</tspan></tspan><tspan x="1221.80" y="564.60" font-size="24.4" >0</tspan><tspan x="1237.40" y="556.40" font-size="33.2" ><tspan font-style="italic">H</tspan></tspan><tspan x="1268.60" y="556.40" font-size="33.2" >(T)</tspan></text>
<text transform="translate(770.70,0) rotate(-90)" fill="#000" stroke="#000" stroke-width="0.25"><tspan x="-412.40" y="-0.00" font-size="33.2" >(</tspan><tspan x="-401.60" y="0.30" font-size="30.5" ><tspan style="font-family:'Noto Serif CJK SC','Liberation Serif',serif;font-style:italic" stroke-width="0.2">τ</tspan></tspan><tspan x="-380.00" y="-0.00" font-size="33.2" ><tspan font-style="italic">T</tspan></tspan><tspan x="-357.30" y="-12.00" font-size="24.4" >1.3</tspan><tspan x="-322.40" y="-0.00" font-size="33.2" >)</tspan><tspan x="-313.00" y="8.70" font-size="24.4" >0</tspan><tspan x="-299.50" y="-12.00" font-size="24.4" >−<tspan font-style="italic">p</tspan></tspan><tspan x="-261.10" y="-0.00" font-size="33.2" >(s</tspan><tspan x="-234.70" y="-12.00" font-size="24.4" >−<tspan font-style="italic">p</tspan></tspan><tspan x="-191.90" y="-0.00" font-size="33.2" >K</tspan><tspan x="-170.60" y="-12.00" font-size="24.4" >−1.3<tspan font-style="italic">p</tspan></tspan><tspan x="-105.90" y="-0.00" font-size="33.2" >)</tspan></text>
<text transform="translate(1548.20,0) rotate(90)" fill="#000" stroke="#000" stroke-width="0.25"><tspan x="153.50" y="-6.50" font-size="28.8" textLength="18.4" lengthAdjust="spacingAndGlyphs"><tspan style="font-family:'Noto Serif CJK SC','Liberation Serif',serif;font-style:italic" stroke-width="0.2">χ</tspan></tspan><tspan x="170.60" y="7.10" font-size="24.4" >P</tspan><tspan x="192.10" y="-0.00" font-size="33.2" >(mJ</tspan><tspan x="256.30" y="-0.00" font-size="33.2" >T</tspan><tspan x="276.70" y="-12.70" font-size="24.4" >−2</tspan><tspan x="313.20" y="-0.00" font-size="33.2" >mol</tspan><tspan x="365.20" y="-12.70" font-size="24.4" >−1</tspan><tspan x="394.80" y="-0.00" font-size="33.2" >)</tspan></text>
</svg>
</div>
</body></html>
